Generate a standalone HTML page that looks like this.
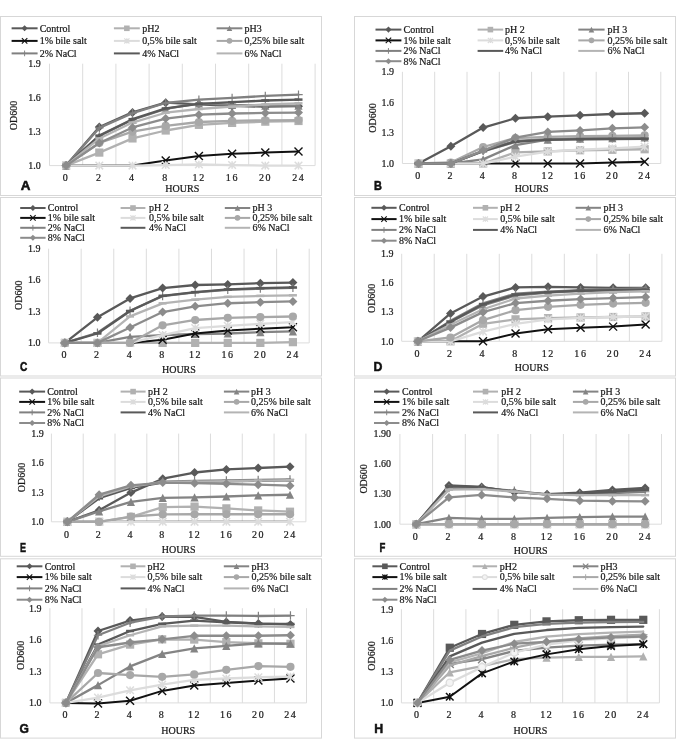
<!DOCTYPE html>
<html><head><meta charset="utf-8"><title>Growth curves</title>
<style>
html,body{margin:0;padding:0;background:#fff;}
body{width:677px;height:739px;overflow:hidden;}
svg text{font-family:"Liberation Serif",serif;}
svg{will-change:transform;}
svg text{stroke:#222;stroke-width:0.22px;}
svg text.pl{stroke:#111;stroke-width:0.55px;}
svg text.pl{font-family:"Liberation Sans",sans-serif;font-weight:bold;}
</style></head><body>
<svg width="677" height="739" viewBox="0 0 677 739" style="display:block">
<rect width="677" height="739" fill="#fff"/>
<rect x="0.5" y="16.5" width="321.0" height="179.0" fill="#fff" stroke="#d7d7d7" stroke-width="1"/>
<path d="M49.50 63.70L49.50 165.60M82.70 63.70L82.70 165.60M115.90 63.70L115.90 165.60M149.10 63.70L149.10 165.60M182.30 63.70L182.30 165.60M215.50 63.70L215.50 165.60M248.70 63.70L248.70 165.60M281.90 63.70L281.90 165.60M315.10 63.70L315.10 165.60M49.50 165.60L315.10 165.60" stroke="#dcdcdc" stroke-width="1" fill="none"/>
<text x="40.80" y="168.90" font-size="10" text-anchor="end" fill="#161616">1.0</text>
<text x="40.80" y="134.93" font-size="10" text-anchor="end" fill="#161616">1.3</text>
<text x="40.80" y="100.97" font-size="10" text-anchor="end" fill="#161616">1.6</text>
<text x="40.80" y="67.00" font-size="10" text-anchor="end" fill="#161616">1.9</text>
<text transform="translate(17.00 115.45) rotate(-90)" font-size="10" text-anchor="middle" fill="#161616">OD600</text>
<text x="65.20" y="180.80" font-size="10" text-anchor="middle" fill="#161616">0</text>
<text x="98.40" y="180.80" font-size="10" text-anchor="middle" fill="#161616">2</text>
<text x="131.60" y="180.80" font-size="10" text-anchor="middle" fill="#161616">4</text>
<text x="164.80" y="180.80" font-size="10" text-anchor="middle" fill="#161616">8</text>
<text x="199.20" y="180.80" font-size="10" text-anchor="middle" fill="#161616" letter-spacing="1.6">12</text>
<text x="232.40" y="180.80" font-size="10" text-anchor="middle" fill="#161616" letter-spacing="1.6">16</text>
<text x="265.60" y="180.80" font-size="10" text-anchor="middle" fill="#161616" letter-spacing="1.6">20</text>
<text x="298.80" y="180.80" font-size="10" text-anchor="middle" fill="#161616" letter-spacing="1.6">24</text>
<text x="182.30" y="191.70" font-size="10" text-anchor="middle" fill="#161616">HOURS</text>
<text transform="translate(20.8 190) scale(0.98 1)" class="pl" font-size="13.7" fill="#111">A</text>
<path d="M66.10 165.60L99.30 127.10L132.50 112.39L165.70 102.65L198.90 104.35L232.10 105.93L265.30 106.72L298.50 106.16" stroke="#595959" stroke-width="2.3" fill="none" stroke-linejoin="round" stroke-linecap="round"/>
<path d="M66.10 161.10L70.60 165.60L66.10 170.10L61.60 165.60Z" fill="#595959"/>
<path d="M99.30 122.60L103.80 127.10L99.30 131.60L94.80 127.10Z" fill="#595959"/>
<path d="M132.50 107.89L137.00 112.39L132.50 116.89L128.00 112.39Z" fill="#595959"/>
<path d="M165.70 98.15L170.20 102.65L165.70 107.15L161.20 102.65Z" fill="#595959"/>
<path d="M198.90 99.85L203.40 104.35L198.90 108.85L194.40 104.35Z" fill="#595959"/>
<path d="M232.10 101.43L236.60 105.93L232.10 110.43L227.60 105.93Z" fill="#595959"/>
<path d="M265.30 102.22L269.80 106.72L265.30 111.22L260.80 106.72Z" fill="#595959"/>
<path d="M298.50 101.66L303.00 106.16L298.50 110.66L294.00 106.16Z" fill="#595959"/>
<path d="M66.10 165.60L99.30 152.58L132.50 138.43L165.70 130.50L198.90 124.84L232.10 122.92L265.30 121.67L298.50 120.99" stroke="#b1b1b1" stroke-width="2.3" fill="none" stroke-linejoin="round" stroke-linecap="round"/>
<rect x="62.00" y="161.50" width="8.20" height="8.20" fill="#b1b1b1"/>
<rect x="95.20" y="148.48" width="8.20" height="8.20" fill="#b1b1b1"/>
<rect x="128.40" y="134.33" width="8.20" height="8.20" fill="#b1b1b1"/>
<rect x="161.60" y="126.40" width="8.20" height="8.20" fill="#b1b1b1"/>
<rect x="194.80" y="120.74" width="8.20" height="8.20" fill="#b1b1b1"/>
<rect x="228.00" y="118.82" width="8.20" height="8.20" fill="#b1b1b1"/>
<rect x="261.20" y="117.57" width="8.20" height="8.20" fill="#b1b1b1"/>
<rect x="294.40" y="116.89" width="8.20" height="8.20" fill="#b1b1b1"/>
<path d="M66.10 165.60L99.30 135.94L132.50 119.75L165.70 108.99L198.90 103.33L232.10 104.91L265.30 105.59L298.50 105.59" stroke="#848484" stroke-width="2.3" fill="none" stroke-linejoin="round" stroke-linecap="round"/>
<path d="M66.10 161.50L70.20 169.70L62.00 169.70Z" fill="#848484"/>
<path d="M99.30 131.84L103.40 140.04L95.20 140.04Z" fill="#848484"/>
<path d="M132.50 115.65L136.60 123.84L128.40 123.84Z" fill="#848484"/>
<path d="M165.70 104.89L169.80 113.09L161.60 113.09Z" fill="#848484"/>
<path d="M198.90 99.23L203.00 107.43L194.80 107.43Z" fill="#848484"/>
<path d="M232.10 100.81L236.20 109.01L228.00 109.01Z" fill="#848484"/>
<path d="M265.30 101.49L269.40 109.69L261.20 109.69Z" fill="#848484"/>
<path d="M298.50 101.49L302.60 109.69L294.40 109.69Z" fill="#848484"/>
<path d="M66.10 165.60L99.30 165.60L132.50 165.60L165.70 160.50L198.90 155.98L232.10 153.71L265.30 152.58L298.50 151.45" stroke="#111111" stroke-width="2.0" fill="none" stroke-linejoin="round" stroke-linecap="round"/>
<path d="M161.70 156.50L169.70 164.50M161.70 164.50L169.70 156.50" stroke="#111111" stroke-width="1.40" fill="none"/>
<path d="M194.90 151.98L202.90 159.98M194.90 159.98L202.90 151.98" stroke="#111111" stroke-width="1.40" fill="none"/>
<path d="M228.10 149.71L236.10 157.71M228.10 157.71L236.10 149.71" stroke="#111111" stroke-width="1.40" fill="none"/>
<path d="M261.30 148.58L269.30 156.58M261.30 156.58L269.30 148.58" stroke="#111111" stroke-width="1.40" fill="none"/>
<path d="M294.50 147.45L302.50 155.45M294.50 155.45L302.50 147.45" stroke="#111111" stroke-width="1.40" fill="none"/>
<path d="M66.10 165.60L99.30 165.60L132.50 165.60L165.70 165.03L198.90 164.47L232.10 165.03L265.30 165.60L298.50 165.60" stroke="#dcdcdc" stroke-width="2.3" fill="none" stroke-linejoin="round" stroke-linecap="round"/>
<path d="M62.30 161.80L69.90 169.40M62.30 169.40L69.90 161.80M66.10 161.80L66.10 169.40" stroke="#dcdcdc" stroke-width="1.50" fill="none"/>
<path d="M95.50 161.80L103.10 169.40M95.50 169.40L103.10 161.80M99.30 161.80L99.30 169.40" stroke="#dcdcdc" stroke-width="1.50" fill="none"/>
<path d="M128.70 161.80L136.30 169.40M128.70 169.40L136.30 161.80M132.50 161.80L132.50 169.40" stroke="#dcdcdc" stroke-width="1.50" fill="none"/>
<path d="M161.90 161.23L169.50 168.83M161.90 168.83L169.50 161.23M165.70 161.23L165.70 168.83" stroke="#dcdcdc" stroke-width="1.50" fill="none"/>
<path d="M195.10 160.67L202.70 168.27M195.10 168.27L202.70 160.67M198.90 160.67L198.90 168.27" stroke="#dcdcdc" stroke-width="1.50" fill="none"/>
<path d="M228.30 161.23L235.90 168.83M228.30 168.83L235.90 161.23M232.10 161.23L232.10 168.83" stroke="#dcdcdc" stroke-width="1.50" fill="none"/>
<path d="M261.50 161.80L269.10 169.40M261.50 169.40L269.10 161.80M265.30 161.80L265.30 169.40" stroke="#dcdcdc" stroke-width="1.50" fill="none"/>
<path d="M294.70 161.80L302.30 169.40M294.70 169.40L302.30 161.80M298.50 161.80L298.50 169.40" stroke="#dcdcdc" stroke-width="1.50" fill="none"/>
<path d="M66.10 165.60L99.30 142.96L132.50 131.63L165.70 125.97L198.90 122.01L232.10 120.88L265.30 120.31L298.50 120.08" stroke="#a8a8a8" stroke-width="2.3" fill="none" stroke-linejoin="round" stroke-linecap="round"/>
<circle cx="66.10" cy="165.60" r="4.10" fill="#a8a8a8"/>
<circle cx="99.30" cy="142.96" r="4.10" fill="#a8a8a8"/>
<circle cx="132.50" cy="131.63" r="4.10" fill="#a8a8a8"/>
<circle cx="165.70" cy="125.97" r="4.10" fill="#a8a8a8"/>
<circle cx="198.90" cy="122.01" r="4.10" fill="#a8a8a8"/>
<circle cx="232.10" cy="120.88" r="4.10" fill="#a8a8a8"/>
<circle cx="265.30" cy="120.31" r="4.10" fill="#a8a8a8"/>
<circle cx="298.50" cy="120.08" r="4.10" fill="#a8a8a8"/>
<path d="M66.10 165.60L99.30 127.90L132.50 113.18L165.70 102.99L198.90 99.59L232.10 97.89L265.30 95.97L298.50 94.61" stroke="#808080" stroke-width="2.3" fill="none" stroke-linejoin="round" stroke-linecap="round"/>
<path d="M61.90 165.60L70.30 165.60M66.10 161.40L66.10 169.80" stroke="#808080" stroke-width="1.20" fill="none"/>
<path d="M95.10 127.90L103.50 127.90M99.30 123.70L99.30 132.10" stroke="#808080" stroke-width="1.20" fill="none"/>
<path d="M128.30 113.18L136.70 113.18M132.50 108.98L132.50 117.38" stroke="#808080" stroke-width="1.20" fill="none"/>
<path d="M161.50 102.99L169.90 102.99M165.70 98.79L165.70 107.19" stroke="#808080" stroke-width="1.20" fill="none"/>
<path d="M194.70 99.59L203.10 99.59M198.90 95.39L198.90 103.79" stroke="#808080" stroke-width="1.20" fill="none"/>
<path d="M227.90 97.89L236.30 97.89M232.10 93.69L232.10 102.09" stroke="#808080" stroke-width="1.20" fill="none"/>
<path d="M261.10 95.97L269.50 95.97M265.30 91.77L265.30 100.17" stroke="#808080" stroke-width="1.20" fill="none"/>
<path d="M294.30 94.61L302.70 94.61M298.50 90.41L298.50 98.81" stroke="#808080" stroke-width="1.20" fill="none"/>
<path d="M66.10 165.60L99.30 135.60L132.50 119.18L165.70 108.42L198.90 103.89L232.10 102.20L265.30 100.50L298.50 99.59" stroke="#595959" stroke-width="2.3" fill="none" stroke-linejoin="round" stroke-linecap="round"/>
<rect x="62.10" y="164.35" width="8.00" height="2.5" fill="#595959"/>
<rect x="95.30" y="134.35" width="8.00" height="2.5" fill="#595959"/>
<rect x="128.50" y="117.93" width="8.00" height="2.5" fill="#595959"/>
<rect x="161.70" y="107.17" width="8.00" height="2.5" fill="#595959"/>
<rect x="194.90" y="102.64" width="8.00" height="2.5" fill="#595959"/>
<rect x="228.10" y="100.95" width="8.00" height="2.5" fill="#595959"/>
<rect x="261.30" y="99.25" width="8.00" height="2.5" fill="#595959"/>
<rect x="294.50" y="98.34" width="8.00" height="2.5" fill="#595959"/>
<path d="M66.10 165.60L99.30 138.43L132.50 122.58L165.70 112.73L198.90 108.99L232.10 106.72L265.30 104.46L298.50 103.33" stroke="#b4b4b4" stroke-width="2.3" fill="none" stroke-linejoin="round" stroke-linecap="round"/>
<rect x="62.10" y="164.35" width="8.00" height="2.5" fill="#b4b4b4"/>
<rect x="95.30" y="137.18" width="8.00" height="2.5" fill="#b4b4b4"/>
<rect x="128.50" y="121.33" width="8.00" height="2.5" fill="#b4b4b4"/>
<rect x="161.70" y="111.48" width="8.00" height="2.5" fill="#b4b4b4"/>
<rect x="194.90" y="107.74" width="8.00" height="2.5" fill="#b4b4b4"/>
<rect x="228.10" y="105.47" width="8.00" height="2.5" fill="#b4b4b4"/>
<rect x="261.30" y="103.21" width="8.00" height="2.5" fill="#b4b4b4"/>
<rect x="294.50" y="102.08" width="8.00" height="2.5" fill="#b4b4b4"/>
<path d="M66.10 165.60L99.30 142.96L132.50 127.44L165.70 118.61L198.90 114.65L232.10 113.52L265.30 112.95L298.50 112.61" stroke="#8c8c8c" stroke-width="2.3" fill="none" stroke-linejoin="round" stroke-linecap="round"/>
<path d="M66.10 161.10L70.60 165.60L66.10 170.10L61.60 165.60Z" fill="#8c8c8c"/>
<path d="M99.30 138.46L103.80 142.96L99.30 147.46L94.80 142.96Z" fill="#8c8c8c"/>
<path d="M132.50 122.94L137.00 127.44L132.50 131.94L128.00 127.44Z" fill="#8c8c8c"/>
<path d="M165.70 114.11L170.20 118.61L165.70 123.11L161.20 118.61Z" fill="#8c8c8c"/>
<path d="M198.90 110.15L203.40 114.65L198.90 119.15L194.40 114.65Z" fill="#8c8c8c"/>
<path d="M232.10 109.02L236.60 113.52L232.10 118.02L227.60 113.52Z" fill="#8c8c8c"/>
<path d="M265.30 108.45L269.80 112.95L265.30 117.45L260.80 112.95Z" fill="#8c8c8c"/>
<path d="M298.50 108.11L303.00 112.61L298.50 117.11L294.00 112.61Z" fill="#8c8c8c"/>
<path d="M11.60 28.30L37.60 28.30" stroke="#595959" stroke-width="2"/>
<path d="M24.60 25.24L27.66 28.30L24.60 31.36L21.54 28.30Z" fill="#595959"/>
<text x="39.70" y="31.60" font-size="10" fill="#161616">Control</text>
<path d="M113.90 28.30L139.80 28.30" stroke="#b1b1b1" stroke-width="2"/>
<rect x="124.06" y="25.51" width="5.58" height="5.58" fill="#b1b1b1"/>
<text x="142.20" y="31.60" font-size="10" fill="#161616">pH2</text>
<path d="M216.60 28.30L242.40 28.30" stroke="#848484" stroke-width="2"/>
<path d="M229.50 25.51L232.29 31.09L226.71 31.09Z" fill="#848484"/>
<text x="244.50" y="31.60" font-size="10" fill="#161616">pH3</text>
<path d="M11.60 40.90L37.60 40.90" stroke="#111111" stroke-width="2"/>
<path d="M21.88 38.18L27.32 43.62M21.88 43.62L27.32 38.18" stroke="#111111" stroke-width="1.12" fill="none"/>
<text x="39.70" y="44.20" font-size="10" fill="#161616">1% bile salt</text>
<path d="M113.90 40.90L139.80 40.90" stroke="#dcdcdc" stroke-width="2"/>
<path d="M124.27 38.32L129.43 43.48M124.27 43.48L129.43 38.32M126.85 38.32L126.85 43.48" stroke="#dcdcdc" stroke-width="1.20" fill="none"/>
<text x="142.20" y="44.20" font-size="10" fill="#161616">0,5% bile salt</text>
<path d="M216.60 40.90L242.40 40.90" stroke="#a8a8a8" stroke-width="2"/>
<circle cx="229.50" cy="40.90" r="2.79" fill="#a8a8a8"/>
<text x="244.50" y="44.20" font-size="10" fill="#161616">0,25% bile salt</text>
<path d="M11.60 53.40L37.60 53.40" stroke="#808080" stroke-width="2"/>
<path d="M21.74 53.40L27.46 53.40M24.60 50.54L24.60 56.26" stroke="#808080" stroke-width="0.96" fill="none"/>
<text x="39.70" y="56.70" font-size="10" fill="#161616">2% NaCl</text>
<path d="M113.90 53.40L139.80 53.40" stroke="#595959" stroke-width="2"/>
<text x="142.20" y="56.70" font-size="10" fill="#161616">4% NaCl</text>
<path d="M216.60 53.40L242.40 53.40" stroke="#b4b4b4" stroke-width="2"/>
<text x="244.50" y="56.70" font-size="10" fill="#161616">6% NaCl</text>
<rect x="354.5" y="16.5" width="321.0" height="179.0" fill="#fff" stroke="#d7d7d7" stroke-width="1"/>
<path d="M402.40 71.80L402.40 163.50M434.70 71.80L434.70 163.50M467.00 71.80L467.00 163.50M499.30 71.80L499.30 163.50M531.60 71.80L531.60 163.50M563.90 71.80L563.90 163.50M596.20 71.80L596.20 163.50M628.50 71.80L628.50 163.50M660.80 71.80L660.80 163.50M402.40 163.50L660.80 163.50" stroke="#dcdcdc" stroke-width="1" fill="none"/>
<text x="394.00" y="166.80" font-size="10" text-anchor="end" fill="#161616">1.0</text>
<text x="394.00" y="136.23" font-size="10" text-anchor="end" fill="#161616">1.3</text>
<text x="394.00" y="105.67" font-size="10" text-anchor="end" fill="#161616">1.6</text>
<text x="394.00" y="75.10" font-size="10" text-anchor="end" fill="#161616">1.9</text>
<text transform="translate(375.50 117.95) rotate(-90)" font-size="10" text-anchor="middle" fill="#161616">OD600</text>
<text x="417.65" y="179.30" font-size="10" text-anchor="middle" fill="#161616">0</text>
<text x="449.95" y="179.30" font-size="10" text-anchor="middle" fill="#161616">2</text>
<text x="482.25" y="179.30" font-size="10" text-anchor="middle" fill="#161616">4</text>
<text x="514.55" y="179.30" font-size="10" text-anchor="middle" fill="#161616">8</text>
<text x="548.05" y="179.30" font-size="10" text-anchor="middle" fill="#161616" letter-spacing="1.6">12</text>
<text x="580.35" y="179.30" font-size="10" text-anchor="middle" fill="#161616" letter-spacing="1.6">16</text>
<text x="612.65" y="179.30" font-size="10" text-anchor="middle" fill="#161616" letter-spacing="1.6">20</text>
<text x="644.95" y="179.30" font-size="10" text-anchor="middle" fill="#161616" letter-spacing="1.6">24</text>
<text x="531.60" y="191.90" font-size="10" text-anchor="middle" fill="#161616">HOURS</text>
<text transform="translate(374.0 189.5) scale(0.8 1)" class="pl" font-size="13.7" fill="#111">B</text>
<path d="M418.55 163.50L450.85 146.18L483.15 127.53L515.45 118.26L547.75 116.63L580.05 115.31L612.35 113.98L644.65 113.27" stroke="#595959" stroke-width="2.3" fill="none" stroke-linejoin="round" stroke-linecap="round"/>
<path d="M418.55 159.00L423.05 163.50L418.55 168.00L414.05 163.50Z" fill="#595959"/>
<path d="M450.85 141.68L455.35 146.18L450.85 150.68L446.35 146.18Z" fill="#595959"/>
<path d="M483.15 123.03L487.65 127.53L483.15 132.03L478.65 127.53Z" fill="#595959"/>
<path d="M515.45 113.76L519.95 118.26L515.45 122.76L510.95 118.26Z" fill="#595959"/>
<path d="M547.75 112.13L552.25 116.63L547.75 121.13L543.25 116.63Z" fill="#595959"/>
<path d="M580.05 110.81L584.55 115.31L580.05 119.81L575.55 115.31Z" fill="#595959"/>
<path d="M612.35 109.48L616.85 113.98L612.35 118.48L607.85 113.98Z" fill="#595959"/>
<path d="M644.65 108.77L649.15 113.27L644.65 117.77L640.15 113.27Z" fill="#595959"/>
<path d="M418.55 163.50L450.85 163.50L483.15 163.50L515.45 152.29L547.75 151.38L580.05 150.25L612.35 149.75L644.65 149.24" stroke="#b1b1b1" stroke-width="2.3" fill="none" stroke-linejoin="round" stroke-linecap="round"/>
<rect x="414.45" y="159.40" width="8.20" height="8.20" fill="#b1b1b1"/>
<rect x="446.75" y="159.40" width="8.20" height="8.20" fill="#b1b1b1"/>
<rect x="479.05" y="159.40" width="8.20" height="8.20" fill="#b1b1b1"/>
<rect x="511.35" y="148.19" width="8.20" height="8.20" fill="#b1b1b1"/>
<rect x="543.65" y="147.28" width="8.20" height="8.20" fill="#b1b1b1"/>
<rect x="575.95" y="146.15" width="8.20" height="8.20" fill="#b1b1b1"/>
<rect x="608.25" y="145.65" width="8.20" height="8.20" fill="#b1b1b1"/>
<rect x="640.55" y="145.14" width="8.20" height="8.20" fill="#b1b1b1"/>
<path d="M418.55 163.50L450.85 163.50L483.15 159.42L515.45 145.16L547.75 139.56L580.05 138.54L612.35 138.03L644.65 137.52" stroke="#848484" stroke-width="2.3" fill="none" stroke-linejoin="round" stroke-linecap="round"/>
<path d="M418.55 159.40L422.65 167.60L414.45 167.60Z" fill="#848484"/>
<path d="M450.85 159.40L454.95 167.60L446.75 167.60Z" fill="#848484"/>
<path d="M483.15 155.32L487.25 163.52L479.05 163.52Z" fill="#848484"/>
<path d="M515.45 141.06L519.55 149.26L511.35 149.26Z" fill="#848484"/>
<path d="M547.75 135.46L551.85 143.66L543.65 143.66Z" fill="#848484"/>
<path d="M580.05 134.44L584.15 142.64L575.95 142.64Z" fill="#848484"/>
<path d="M612.35 133.93L616.45 142.13L608.25 142.13Z" fill="#848484"/>
<path d="M644.65 133.42L648.75 141.62L640.55 141.62Z" fill="#848484"/>
<path d="M418.55 163.50L450.85 163.50L483.15 163.50L515.45 163.50L547.75 163.50L580.05 163.50L612.35 162.48L644.65 161.77" stroke="#111111" stroke-width="2.0" fill="none" stroke-linejoin="round" stroke-linecap="round"/>
<path d="M511.45 159.50L519.45 167.50M511.45 167.50L519.45 159.50" stroke="#111111" stroke-width="1.40" fill="none"/>
<path d="M543.75 159.50L551.75 167.50M543.75 167.50L551.75 159.50" stroke="#111111" stroke-width="1.40" fill="none"/>
<path d="M576.05 159.50L584.05 167.50M576.05 167.50L584.05 159.50" stroke="#111111" stroke-width="1.40" fill="none"/>
<path d="M608.35 158.48L616.35 166.48M608.35 166.48L616.35 158.48" stroke="#111111" stroke-width="1.40" fill="none"/>
<path d="M640.65 157.77L648.65 165.77M640.65 165.77L648.65 157.77" stroke="#111111" stroke-width="1.40" fill="none"/>
<path d="M418.55 163.50L450.85 163.50L483.15 163.50L515.45 156.67L547.75 151.68L580.05 149.75L612.35 148.42L644.65 146.69" stroke="#dcdcdc" stroke-width="2.3" fill="none" stroke-linejoin="round" stroke-linecap="round"/>
<path d="M414.75 159.70L422.35 167.30M414.75 167.30L422.35 159.70M418.55 159.70L418.55 167.30" stroke="#dcdcdc" stroke-width="1.50" fill="none"/>
<path d="M447.05 159.70L454.65 167.30M447.05 167.30L454.65 159.70M450.85 159.70L450.85 167.30" stroke="#dcdcdc" stroke-width="1.50" fill="none"/>
<path d="M479.35 159.70L486.95 167.30M479.35 167.30L486.95 159.70M483.15 159.70L483.15 167.30" stroke="#dcdcdc" stroke-width="1.50" fill="none"/>
<path d="M511.65 152.87L519.25 160.47M511.65 160.47L519.25 152.87M515.45 152.87L515.45 160.47" stroke="#dcdcdc" stroke-width="1.50" fill="none"/>
<path d="M543.95 147.88L551.55 155.48M543.95 155.48L551.55 147.88M547.75 147.88L547.75 155.48" stroke="#dcdcdc" stroke-width="1.50" fill="none"/>
<path d="M576.25 145.94L583.85 153.55M576.25 153.55L583.85 145.94M580.05 145.94L580.05 153.55" stroke="#dcdcdc" stroke-width="1.50" fill="none"/>
<path d="M608.55 144.62L616.15 152.22M608.55 152.22L616.15 144.62M612.35 144.62L612.35 152.22" stroke="#dcdcdc" stroke-width="1.50" fill="none"/>
<path d="M640.85 142.89L648.45 150.49M640.85 150.49L648.45 142.89M644.65 142.89L644.65 150.49" stroke="#dcdcdc" stroke-width="1.50" fill="none"/>
<path d="M418.55 163.50L450.85 162.48L483.15 146.99L515.45 138.03L547.75 136.81L580.05 136.19L612.35 135.79L644.65 135.28" stroke="#a8a8a8" stroke-width="2.3" fill="none" stroke-linejoin="round" stroke-linecap="round"/>
<circle cx="418.55" cy="163.50" r="4.10" fill="#a8a8a8"/>
<circle cx="450.85" cy="162.48" r="4.10" fill="#a8a8a8"/>
<circle cx="483.15" cy="146.99" r="4.10" fill="#a8a8a8"/>
<circle cx="515.45" cy="138.03" r="4.10" fill="#a8a8a8"/>
<circle cx="547.75" cy="136.81" r="4.10" fill="#a8a8a8"/>
<circle cx="580.05" cy="136.19" r="4.10" fill="#a8a8a8"/>
<circle cx="612.35" cy="135.79" r="4.10" fill="#a8a8a8"/>
<circle cx="644.65" cy="135.28" r="4.10" fill="#a8a8a8"/>
<path d="M418.55 163.50L450.85 163.50L483.15 151.27L515.45 142.10L547.75 139.56L580.05 139.05L612.35 138.74L644.65 138.54" stroke="#b4b4b4" stroke-width="2.3" fill="none" stroke-linejoin="round" stroke-linecap="round"/>
<rect x="414.55" y="162.25" width="8.00" height="2.5" fill="#b4b4b4"/>
<rect x="446.85" y="162.25" width="8.00" height="2.5" fill="#b4b4b4"/>
<rect x="479.15" y="150.02" width="8.00" height="2.5" fill="#b4b4b4"/>
<rect x="511.45" y="140.85" width="8.00" height="2.5" fill="#b4b4b4"/>
<rect x="543.75" y="138.31" width="8.00" height="2.5" fill="#b4b4b4"/>
<rect x="576.05" y="137.80" width="8.00" height="2.5" fill="#b4b4b4"/>
<rect x="608.35" y="137.49" width="8.00" height="2.5" fill="#b4b4b4"/>
<rect x="640.65" y="137.29" width="8.00" height="2.5" fill="#b4b4b4"/>
<path d="M418.55 163.50L450.85 163.50L483.15 150.76L515.45 140.88L547.75 139.05L580.05 138.54L612.35 138.23L644.65 138.03" stroke="#808080" stroke-width="2.3" fill="none" stroke-linejoin="round" stroke-linecap="round"/>
<path d="M414.35 163.50L422.75 163.50M418.55 159.30L418.55 167.70" stroke="#808080" stroke-width="1.20" fill="none"/>
<path d="M446.65 163.50L455.05 163.50M450.85 159.30L450.85 167.70" stroke="#808080" stroke-width="1.20" fill="none"/>
<path d="M478.95 150.76L487.35 150.76M483.15 146.56L483.15 154.96" stroke="#808080" stroke-width="1.20" fill="none"/>
<path d="M511.25 140.88L519.65 140.88M515.45 136.68L515.45 145.08" stroke="#808080" stroke-width="1.20" fill="none"/>
<path d="M543.55 139.05L551.95 139.05M547.75 134.85L547.75 143.25" stroke="#808080" stroke-width="1.20" fill="none"/>
<path d="M575.85 138.54L584.25 138.54M580.05 134.34L580.05 142.74" stroke="#808080" stroke-width="1.20" fill="none"/>
<path d="M608.15 138.23L616.55 138.23M612.35 134.03L612.35 142.43" stroke="#808080" stroke-width="1.20" fill="none"/>
<path d="M640.45 138.03L648.85 138.03M644.65 133.83L644.65 142.23" stroke="#808080" stroke-width="1.20" fill="none"/>
<path d="M418.55 163.50L450.85 163.50L483.15 151.07L515.45 141.59L547.75 139.86L580.05 139.25L612.35 139.05L644.65 138.84" stroke="#595959" stroke-width="2.3" fill="none" stroke-linejoin="round" stroke-linecap="round"/>
<rect x="414.55" y="162.25" width="8.00" height="2.5" fill="#595959"/>
<rect x="446.85" y="162.25" width="8.00" height="2.5" fill="#595959"/>
<rect x="479.15" y="149.82" width="8.00" height="2.5" fill="#595959"/>
<rect x="511.45" y="140.34" width="8.00" height="2.5" fill="#595959"/>
<rect x="543.75" y="138.61" width="8.00" height="2.5" fill="#595959"/>
<rect x="576.05" y="138.00" width="8.00" height="2.5" fill="#595959"/>
<rect x="608.35" y="137.80" width="8.00" height="2.5" fill="#595959"/>
<rect x="640.65" y="137.59" width="8.00" height="2.5" fill="#595959"/>
<path d="M418.55 163.50L450.85 163.50L483.15 150.56L515.45 137.62L547.75 131.91L580.05 130.39L612.35 128.35L644.65 127.33" stroke="#8c8c8c" stroke-width="2.3" fill="none" stroke-linejoin="round" stroke-linecap="round"/>
<path d="M418.55 159.00L423.05 163.50L418.55 168.00L414.05 163.50Z" fill="#8c8c8c"/>
<path d="M450.85 159.00L455.35 163.50L450.85 168.00L446.35 163.50Z" fill="#8c8c8c"/>
<path d="M483.15 146.06L487.65 150.56L483.15 155.06L478.65 150.56Z" fill="#8c8c8c"/>
<path d="M515.45 133.12L519.95 137.62L515.45 142.12L510.95 137.62Z" fill="#8c8c8c"/>
<path d="M547.75 127.41L552.25 131.91L547.75 136.41L543.25 131.91Z" fill="#8c8c8c"/>
<path d="M580.05 125.89L584.55 130.39L580.05 134.89L575.55 130.39Z" fill="#8c8c8c"/>
<path d="M612.35 123.85L616.85 128.35L612.35 132.85L607.85 128.35Z" fill="#8c8c8c"/>
<path d="M644.65 122.83L649.15 127.33L644.65 131.83L640.15 127.33Z" fill="#8c8c8c"/>
<path d="M375.50 29.60L401.40 29.60" stroke="#595959" stroke-width="2"/>
<path d="M388.45 26.54L391.51 29.60L388.45 32.66L385.39 29.60Z" fill="#595959"/>
<text x="403.50" y="32.90" font-size="10" fill="#161616">Control</text>
<path d="M477.60 29.60L503.20 29.60" stroke="#b1b1b1" stroke-width="2"/>
<rect x="487.61" y="26.81" width="5.58" height="5.58" fill="#b1b1b1"/>
<text x="505.00" y="32.90" font-size="10" fill="#161616">pH 2</text>
<path d="M578.30 29.60L604.60 29.60" stroke="#848484" stroke-width="2"/>
<path d="M591.45 26.81L594.24 32.39L588.66 32.39Z" fill="#848484"/>
<text x="607.50" y="32.90" font-size="10" fill="#161616">pH 3</text>
<path d="M375.50 40.40L401.40 40.40" stroke="#111111" stroke-width="2"/>
<path d="M385.73 37.68L391.17 43.12M385.73 43.12L391.17 37.68" stroke="#111111" stroke-width="1.12" fill="none"/>
<text x="403.50" y="43.70" font-size="10" fill="#161616">1% bile salt</text>
<path d="M477.60 40.40L503.20 40.40" stroke="#dcdcdc" stroke-width="2"/>
<path d="M487.82 37.82L492.98 42.98M487.82 42.98L492.98 37.82M490.40 37.82L490.40 42.98" stroke="#dcdcdc" stroke-width="1.20" fill="none"/>
<text x="505.00" y="43.70" font-size="10" fill="#161616">0,5% bile salt</text>
<path d="M578.30 40.40L604.60 40.40" stroke="#a8a8a8" stroke-width="2"/>
<circle cx="591.45" cy="40.40" r="2.79" fill="#a8a8a8"/>
<text x="607.50" y="43.70" font-size="10" fill="#161616">0,25% bile salt</text>
<path d="M375.50 50.90L401.40 50.90" stroke="#808080" stroke-width="2"/>
<path d="M385.59 50.90L391.31 50.90M388.45 48.04L388.45 53.76" stroke="#808080" stroke-width="0.96" fill="none"/>
<text x="403.50" y="54.20" font-size="10" fill="#161616">2% NaCl</text>
<path d="M477.60 50.90L503.20 50.90" stroke="#595959" stroke-width="2"/>
<text x="505.00" y="54.20" font-size="10" fill="#161616">4% NaCl</text>
<path d="M578.30 50.90L604.60 50.90" stroke="#b4b4b4" stroke-width="2"/>
<text x="607.50" y="54.20" font-size="10" fill="#161616">6% NaCl</text>
<path d="M375.50 61.20L401.40 61.20" stroke="#8c8c8c" stroke-width="2"/>
<path d="M388.45 58.14L391.51 61.20L388.45 64.26L385.39 61.20Z" fill="#8c8c8c"/>
<text x="403.50" y="64.50" font-size="10" fill="#161616">8% NaCl</text>
<rect x="0.5" y="197.5" width="321.0" height="178.5" fill="#fff" stroke="#d7d7d7" stroke-width="1"/>
<path d="M48.60 248.70L48.60 342.90M81.17 248.70L81.17 342.90M113.75 248.70L113.75 342.90M146.32 248.70L146.32 342.90M178.90 248.70L178.90 342.90M211.47 248.70L211.47 342.90M244.05 248.70L244.05 342.90M276.62 248.70L276.62 342.90M309.20 248.70L309.20 342.90M48.60 342.90L309.20 342.90" stroke="#dcdcdc" stroke-width="1" fill="none"/>
<text x="40.50" y="346.20" font-size="10" text-anchor="end" fill="#161616">1.0</text>
<text x="40.50" y="314.80" font-size="10" text-anchor="end" fill="#161616">1.3</text>
<text x="40.50" y="283.40" font-size="10" text-anchor="end" fill="#161616">1.6</text>
<text x="40.50" y="252.00" font-size="10" text-anchor="end" fill="#161616">1.9</text>
<text transform="translate(22.00 295.30) rotate(-90)" font-size="10" text-anchor="middle" fill="#161616">OD600</text>
<text x="63.99" y="358.30" font-size="10" text-anchor="middle" fill="#161616">0</text>
<text x="96.56" y="358.30" font-size="10" text-anchor="middle" fill="#161616">2</text>
<text x="129.14" y="358.30" font-size="10" text-anchor="middle" fill="#161616">4</text>
<text x="161.71" y="358.30" font-size="10" text-anchor="middle" fill="#161616">8</text>
<text x="195.49" y="358.30" font-size="10" text-anchor="middle" fill="#161616" letter-spacing="1.6">12</text>
<text x="228.06" y="358.30" font-size="10" text-anchor="middle" fill="#161616" letter-spacing="1.6">16</text>
<text x="260.64" y="358.30" font-size="10" text-anchor="middle" fill="#161616" letter-spacing="1.6">20</text>
<text x="293.21" y="358.30" font-size="10" text-anchor="middle" fill="#161616" letter-spacing="1.6">24</text>
<text x="178.90" y="373.20" font-size="10" text-anchor="middle" fill="#161616">HOURS</text>
<text transform="translate(19.9 371) scale(0.74 1)" class="pl" font-size="13.7" fill="#111">C</text>
<path d="M64.89 342.90L97.46 317.36L130.04 298.42L162.61 288.05L195.19 285.02L227.76 284.39L260.34 283.14L292.91 282.61" stroke="#595959" stroke-width="2.3" fill="none" stroke-linejoin="round" stroke-linecap="round"/>
<path d="M64.89 338.40L69.39 342.90L64.89 347.40L60.39 342.90Z" fill="#595959"/>
<path d="M97.46 312.86L101.96 317.36L97.46 321.86L92.96 317.36Z" fill="#595959"/>
<path d="M130.04 293.92L134.54 298.42L130.04 302.92L125.54 298.42Z" fill="#595959"/>
<path d="M162.61 283.55L167.11 288.05L162.61 292.55L158.11 288.05Z" fill="#595959"/>
<path d="M195.19 280.52L199.69 285.02L195.19 289.52L190.69 285.02Z" fill="#595959"/>
<path d="M227.76 279.89L232.26 284.39L227.76 288.89L223.26 284.39Z" fill="#595959"/>
<path d="M260.34 278.64L264.84 283.14L260.34 287.64L255.84 283.14Z" fill="#595959"/>
<path d="M292.91 278.11L297.41 282.61L292.91 287.11L288.41 282.61Z" fill="#595959"/>
<path d="M64.89 342.90L97.46 342.90L130.04 342.90L162.61 342.90L195.19 342.90L227.76 342.90L260.34 342.90L292.91 342.17" stroke="#b1b1b1" stroke-width="2.3" fill="none" stroke-linejoin="round" stroke-linecap="round"/>
<rect x="60.79" y="338.80" width="8.20" height="8.20" fill="#b1b1b1"/>
<rect x="93.36" y="338.80" width="8.20" height="8.20" fill="#b1b1b1"/>
<rect x="125.94" y="338.80" width="8.20" height="8.20" fill="#b1b1b1"/>
<rect x="158.51" y="338.80" width="8.20" height="8.20" fill="#b1b1b1"/>
<rect x="191.09" y="338.80" width="8.20" height="8.20" fill="#b1b1b1"/>
<rect x="223.66" y="338.80" width="8.20" height="8.20" fill="#b1b1b1"/>
<rect x="256.24" y="338.80" width="8.20" height="8.20" fill="#b1b1b1"/>
<rect x="288.81" y="338.07" width="8.20" height="8.20" fill="#b1b1b1"/>
<path d="M64.89 342.90L97.46 342.90L130.04 336.83L162.61 335.05L195.19 334.00L227.76 333.48L260.34 332.12L292.91 331.39" stroke="#848484" stroke-width="2.3" fill="none" stroke-linejoin="round" stroke-linecap="round"/>
<path d="M64.89 338.80L68.99 347.00L60.79 347.00Z" fill="#848484"/>
<path d="M97.46 338.80L101.56 347.00L93.36 347.00Z" fill="#848484"/>
<path d="M130.04 332.73L134.14 340.93L125.94 340.93Z" fill="#848484"/>
<path d="M162.61 330.95L166.71 339.15L158.51 339.15Z" fill="#848484"/>
<path d="M195.19 329.90L199.29 338.10L191.09 338.10Z" fill="#848484"/>
<path d="M227.76 329.38L231.86 337.58L223.66 337.58Z" fill="#848484"/>
<path d="M260.34 328.02L264.44 336.22L256.24 336.22Z" fill="#848484"/>
<path d="M292.91 327.29L297.01 335.49L288.81 335.49Z" fill="#848484"/>
<path d="M64.89 342.90L97.46 342.90L130.04 342.90L162.61 339.76L195.19 333.48L227.76 330.55L260.34 328.67L292.91 327.20" stroke="#111111" stroke-width="2.0" fill="none" stroke-linejoin="round" stroke-linecap="round"/>
<path d="M158.61 335.76L166.61 343.76M158.61 343.76L166.61 335.76" stroke="#111111" stroke-width="1.40" fill="none"/>
<path d="M191.19 329.48L199.19 337.48M191.19 337.48L199.19 329.48" stroke="#111111" stroke-width="1.40" fill="none"/>
<path d="M223.76 326.55L231.76 334.55M223.76 334.55L231.76 326.55" stroke="#111111" stroke-width="1.40" fill="none"/>
<path d="M256.34 324.67L264.34 332.67M256.34 332.67L264.34 324.67" stroke="#111111" stroke-width="1.40" fill="none"/>
<path d="M288.91 323.20L296.91 331.20M288.91 331.20L296.91 323.20" stroke="#111111" stroke-width="1.40" fill="none"/>
<path d="M64.89 342.90L97.46 342.90L130.04 342.90L162.61 335.05L195.19 328.04L227.76 325.84L260.34 323.85L292.91 322.07" stroke="#dcdcdc" stroke-width="2.3" fill="none" stroke-linejoin="round" stroke-linecap="round"/>
<path d="M61.09 339.10L68.69 346.70M61.09 346.70L68.69 339.10M64.89 339.10L64.89 346.70" stroke="#dcdcdc" stroke-width="1.50" fill="none"/>
<path d="M93.66 339.10L101.26 346.70M93.66 346.70L101.26 339.10M97.46 339.10L97.46 346.70" stroke="#dcdcdc" stroke-width="1.50" fill="none"/>
<path d="M126.24 339.10L133.84 346.70M126.24 346.70L133.84 339.10M130.04 339.10L130.04 346.70" stroke="#dcdcdc" stroke-width="1.50" fill="none"/>
<path d="M158.81 331.25L166.41 338.85M158.81 338.85L166.41 331.25M162.61 331.25L162.61 338.85" stroke="#dcdcdc" stroke-width="1.50" fill="none"/>
<path d="M191.39 324.24L198.99 331.84M191.39 331.84L198.99 324.24M195.19 324.24L195.19 331.84" stroke="#dcdcdc" stroke-width="1.50" fill="none"/>
<path d="M223.96 322.04L231.56 329.64M223.96 329.64L231.56 322.04M227.76 322.04L227.76 329.64" stroke="#dcdcdc" stroke-width="1.50" fill="none"/>
<path d="M256.54 320.05L264.14 327.65M256.54 327.65L264.14 320.05M260.34 320.05L260.34 327.65" stroke="#dcdcdc" stroke-width="1.50" fill="none"/>
<path d="M289.11 318.27L296.71 325.87M289.11 325.87L296.71 318.27M292.91 318.27L292.91 325.87" stroke="#dcdcdc" stroke-width="1.50" fill="none"/>
<path d="M64.89 342.90L97.46 342.90L130.04 342.90L162.61 325.32L195.19 319.98L227.76 317.78L260.34 317.05L292.91 316.52" stroke="#a8a8a8" stroke-width="2.3" fill="none" stroke-linejoin="round" stroke-linecap="round"/>
<circle cx="64.89" cy="342.90" r="4.10" fill="#a8a8a8"/>
<circle cx="97.46" cy="342.90" r="4.10" fill="#a8a8a8"/>
<circle cx="130.04" cy="342.90" r="4.10" fill="#a8a8a8"/>
<circle cx="162.61" cy="325.32" r="4.10" fill="#a8a8a8"/>
<circle cx="195.19" cy="319.98" r="4.10" fill="#a8a8a8"/>
<circle cx="227.76" cy="317.78" r="4.10" fill="#a8a8a8"/>
<circle cx="260.34" cy="317.05" r="4.10" fill="#a8a8a8"/>
<circle cx="292.91" cy="316.52" r="4.10" fill="#a8a8a8"/>
<path d="M64.89 342.90L97.46 332.75L130.04 310.77L162.61 296.11L195.19 292.45L227.76 289.83L260.34 288.58L292.91 287.85" stroke="#808080" stroke-width="2.3" fill="none" stroke-linejoin="round" stroke-linecap="round"/>
<path d="M60.69 342.90L69.09 342.90M64.89 338.70L64.89 347.10" stroke="#808080" stroke-width="1.20" fill="none"/>
<path d="M93.26 332.75L101.66 332.75M97.46 328.55L97.46 336.95" stroke="#808080" stroke-width="1.20" fill="none"/>
<path d="M125.84 310.77L134.24 310.77M130.04 306.57L130.04 314.97" stroke="#808080" stroke-width="1.20" fill="none"/>
<path d="M158.41 296.11L166.81 296.11M162.61 291.91L162.61 300.31" stroke="#808080" stroke-width="1.20" fill="none"/>
<path d="M190.99 292.45L199.39 292.45M195.19 288.25L195.19 296.65" stroke="#808080" stroke-width="1.20" fill="none"/>
<path d="M223.56 289.83L231.96 289.83M227.76 285.63L227.76 294.03" stroke="#808080" stroke-width="1.20" fill="none"/>
<path d="M256.14 288.58L264.54 288.58M260.34 284.38L260.34 292.78" stroke="#808080" stroke-width="1.20" fill="none"/>
<path d="M288.71 287.85L297.11 287.85M292.91 283.65L292.91 292.05" stroke="#808080" stroke-width="1.20" fill="none"/>
<path d="M64.89 342.90L97.46 333.48L130.04 310.98L162.61 295.80L195.19 292.14L227.76 289.42L260.34 288.16L292.91 287.43" stroke="#595959" stroke-width="2.3" fill="none" stroke-linejoin="round" stroke-linecap="round"/>
<rect x="60.89" y="341.65" width="8.00" height="2.5" fill="#595959"/>
<rect x="93.46" y="332.23" width="8.00" height="2.5" fill="#595959"/>
<rect x="126.04" y="309.73" width="8.00" height="2.5" fill="#595959"/>
<rect x="158.61" y="294.55" width="8.00" height="2.5" fill="#595959"/>
<rect x="191.19" y="290.89" width="8.00" height="2.5" fill="#595959"/>
<rect x="223.76" y="288.17" width="8.00" height="2.5" fill="#595959"/>
<rect x="256.34" y="286.91" width="8.00" height="2.5" fill="#595959"/>
<rect x="288.91" y="286.18" width="8.00" height="2.5" fill="#595959"/>
<path d="M64.89 342.90L97.46 342.90L130.04 316.42L162.61 303.34L195.19 299.67L227.76 296.85L260.34 295.90L292.91 295.28" stroke="#b4b4b4" stroke-width="2.3" fill="none" stroke-linejoin="round" stroke-linecap="round"/>
<rect x="60.89" y="341.65" width="8.00" height="2.5" fill="#b4b4b4"/>
<rect x="93.46" y="341.65" width="8.00" height="2.5" fill="#b4b4b4"/>
<rect x="126.04" y="315.17" width="8.00" height="2.5" fill="#b4b4b4"/>
<rect x="158.61" y="302.09" width="8.00" height="2.5" fill="#b4b4b4"/>
<rect x="191.19" y="298.42" width="8.00" height="2.5" fill="#b4b4b4"/>
<rect x="223.76" y="295.60" width="8.00" height="2.5" fill="#b4b4b4"/>
<rect x="256.34" y="294.65" width="8.00" height="2.5" fill="#b4b4b4"/>
<rect x="288.91" y="294.03" width="8.00" height="2.5" fill="#b4b4b4"/>
<path d="M64.89 342.90L97.46 342.90L130.04 327.51L162.61 312.02L195.19 306.37L227.76 303.23L260.34 302.18L292.91 301.45" stroke="#8c8c8c" stroke-width="2.3" fill="none" stroke-linejoin="round" stroke-linecap="round"/>
<path d="M64.89 338.40L69.39 342.90L64.89 347.40L60.39 342.90Z" fill="#8c8c8c"/>
<path d="M97.46 338.40L101.96 342.90L97.46 347.40L92.96 342.90Z" fill="#8c8c8c"/>
<path d="M130.04 323.01L134.54 327.51L130.04 332.01L125.54 327.51Z" fill="#8c8c8c"/>
<path d="M162.61 307.52L167.11 312.02L162.61 316.52L158.11 312.02Z" fill="#8c8c8c"/>
<path d="M195.19 301.87L199.69 306.37L195.19 310.87L190.69 306.37Z" fill="#8c8c8c"/>
<path d="M227.76 298.73L232.26 303.23L227.76 307.73L223.26 303.23Z" fill="#8c8c8c"/>
<path d="M260.34 297.68L264.84 302.18L260.34 306.68L255.84 302.18Z" fill="#8c8c8c"/>
<path d="M292.91 296.95L297.41 301.45L292.91 305.95L288.41 301.45Z" fill="#8c8c8c"/>
<path d="M20.20 208.00L45.60 208.00" stroke="#595959" stroke-width="2"/>
<path d="M32.90 204.94L35.96 208.00L32.90 211.06L29.84 208.00Z" fill="#595959"/>
<text x="47.80" y="211.30" font-size="10" fill="#161616">Control</text>
<path d="M120.60 208.00L145.40 208.00" stroke="#b1b1b1" stroke-width="2"/>
<rect x="130.21" y="205.21" width="5.58" height="5.58" fill="#b1b1b1"/>
<text x="149.00" y="211.30" font-size="10" fill="#161616">pH 2</text>
<path d="M224.80 208.00L250.20 208.00" stroke="#848484" stroke-width="2"/>
<path d="M237.50 205.21L240.29 210.79L234.71 210.79Z" fill="#848484"/>
<text x="252.50" y="211.30" font-size="10" fill="#161616">pH 3</text>
<path d="M20.20 217.90L45.60 217.90" stroke="#111111" stroke-width="2"/>
<path d="M30.18 215.18L35.62 220.62M30.18 220.62L35.62 215.18" stroke="#111111" stroke-width="1.12" fill="none"/>
<text x="47.80" y="221.20" font-size="10" fill="#161616">1% bile salt</text>
<path d="M120.60 217.90L145.40 217.90" stroke="#dcdcdc" stroke-width="2"/>
<path d="M130.42 215.32L135.58 220.48M130.42 220.48L135.58 215.32M133.00 215.32L133.00 220.48" stroke="#dcdcdc" stroke-width="1.20" fill="none"/>
<text x="149.00" y="221.20" font-size="10" fill="#161616">0,5% bile salt</text>
<path d="M224.80 217.90L250.20 217.90" stroke="#a8a8a8" stroke-width="2"/>
<circle cx="237.50" cy="217.90" r="2.79" fill="#a8a8a8"/>
<text x="252.50" y="221.20" font-size="10" fill="#161616">0,25% bile salt</text>
<path d="M20.20 227.80L45.60 227.80" stroke="#808080" stroke-width="2"/>
<path d="M30.04 227.80L35.76 227.80M32.90 224.94L32.90 230.66" stroke="#808080" stroke-width="0.96" fill="none"/>
<text x="47.80" y="231.10" font-size="10" fill="#161616">2% NaCl</text>
<path d="M120.60 227.80L145.40 227.80" stroke="#595959" stroke-width="2"/>
<text x="149.00" y="231.10" font-size="10" fill="#161616">4% NaCl</text>
<path d="M224.80 227.80L250.20 227.80" stroke="#b4b4b4" stroke-width="2"/>
<text x="252.50" y="231.10" font-size="10" fill="#161616">6% NaCl</text>
<path d="M20.20 237.80L45.60 237.80" stroke="#8c8c8c" stroke-width="2"/>
<path d="M32.90 234.74L35.96 237.80L32.90 240.86L29.84 237.80Z" fill="#8c8c8c"/>
<text x="47.80" y="241.10" font-size="10" fill="#161616">8% NaCl</text>
<rect x="354.5" y="197.5" width="321.0" height="178.5" fill="#fff" stroke="#d7d7d7" stroke-width="1"/>
<path d="M401.70 253.80L401.70 341.30M434.22 253.80L434.22 341.30M466.75 253.80L466.75 341.30M499.27 253.80L499.27 341.30M531.80 253.80L531.80 341.30M564.33 253.80L564.33 341.30M596.85 253.80L596.85 341.30M629.38 253.80L629.38 341.30M661.90 253.80L661.90 341.30M401.70 341.30L661.90 341.30" stroke="#dcdcdc" stroke-width="1" fill="none"/>
<text x="393.50" y="344.60" font-size="10" text-anchor="end" fill="#161616">1.0</text>
<text x="393.50" y="315.43" font-size="10" text-anchor="end" fill="#161616">1.3</text>
<text x="393.50" y="286.27" font-size="10" text-anchor="end" fill="#161616">1.6</text>
<text x="393.50" y="257.10" font-size="10" text-anchor="end" fill="#161616">1.9</text>
<text transform="translate(374.50 298.35) rotate(-90)" font-size="10" text-anchor="middle" fill="#161616">OD600</text>
<text x="417.06" y="356.90" font-size="10" text-anchor="middle" fill="#161616">0</text>
<text x="449.59" y="356.90" font-size="10" text-anchor="middle" fill="#161616">2</text>
<text x="482.11" y="356.90" font-size="10" text-anchor="middle" fill="#161616">4</text>
<text x="514.64" y="356.90" font-size="10" text-anchor="middle" fill="#161616">8</text>
<text x="548.36" y="356.90" font-size="10" text-anchor="middle" fill="#161616" letter-spacing="1.6">12</text>
<text x="580.89" y="356.90" font-size="10" text-anchor="middle" fill="#161616" letter-spacing="1.6">16</text>
<text x="613.41" y="356.90" font-size="10" text-anchor="middle" fill="#161616" letter-spacing="1.6">20</text>
<text x="645.94" y="356.90" font-size="10" text-anchor="middle" fill="#161616" letter-spacing="1.6">24</text>
<text x="531.80" y="370.80" font-size="10" text-anchor="middle" fill="#161616">HOURS</text>
<text transform="translate(373.5 371) scale(0.9 1)" class="pl" font-size="13.7" fill="#111">D</text>
<path d="M417.96 341.30L450.49 313.49L483.01 296.58L515.54 287.44L548.06 286.86L580.59 287.44L613.11 287.83L645.64 287.83" stroke="#595959" stroke-width="2.3" fill="none" stroke-linejoin="round" stroke-linecap="round"/>
<path d="M417.96 336.80L422.46 341.30L417.96 345.80L413.46 341.30Z" fill="#595959"/>
<path d="M450.49 308.99L454.99 313.49L450.49 317.99L445.99 313.49Z" fill="#595959"/>
<path d="M483.01 292.08L487.51 296.58L483.01 301.08L478.51 296.58Z" fill="#595959"/>
<path d="M515.54 282.94L520.04 287.44L515.54 291.94L511.04 287.44Z" fill="#595959"/>
<path d="M548.06 282.36L552.56 286.86L548.06 291.36L543.56 286.86Z" fill="#595959"/>
<path d="M580.59 282.94L585.09 287.44L580.59 291.94L576.09 287.44Z" fill="#595959"/>
<path d="M613.11 283.33L617.61 287.83L613.11 292.33L608.61 287.83Z" fill="#595959"/>
<path d="M645.64 283.33L650.14 287.83L645.64 292.33L641.14 287.83Z" fill="#595959"/>
<path d="M417.96 341.30L450.49 341.30L483.01 323.80L515.54 319.33L548.06 318.16L580.59 317.48L613.11 316.99L645.64 316.41" stroke="#b1b1b1" stroke-width="2.3" fill="none" stroke-linejoin="round" stroke-linecap="round"/>
<rect x="413.86" y="337.20" width="8.20" height="8.20" fill="#b1b1b1"/>
<rect x="446.39" y="337.20" width="8.20" height="8.20" fill="#b1b1b1"/>
<rect x="478.91" y="319.70" width="8.20" height="8.20" fill="#b1b1b1"/>
<rect x="511.44" y="315.23" width="8.20" height="8.20" fill="#b1b1b1"/>
<rect x="543.96" y="314.06" width="8.20" height="8.20" fill="#b1b1b1"/>
<rect x="576.49" y="313.38" width="8.20" height="8.20" fill="#b1b1b1"/>
<rect x="609.01" y="312.89" width="8.20" height="8.20" fill="#b1b1b1"/>
<rect x="641.54" y="312.31" width="8.20" height="8.20" fill="#b1b1b1"/>
<path d="M417.96 341.30L450.49 321.86L483.01 305.33L515.54 295.61L548.06 292.69L580.59 290.74L613.11 289.29L645.64 288.31" stroke="#848484" stroke-width="2.3" fill="none" stroke-linejoin="round" stroke-linecap="round"/>
<path d="M417.96 337.20L422.06 345.40L413.86 345.40Z" fill="#848484"/>
<path d="M450.49 317.76L454.59 325.96L446.39 325.96Z" fill="#848484"/>
<path d="M483.01 301.23L487.11 309.43L478.91 309.43Z" fill="#848484"/>
<path d="M515.54 291.51L519.64 299.71L511.44 299.71Z" fill="#848484"/>
<path d="M548.06 288.59L552.16 296.79L543.96 296.79Z" fill="#848484"/>
<path d="M580.59 286.64L584.69 294.84L576.49 294.84Z" fill="#848484"/>
<path d="M613.11 285.19L617.21 293.39L609.01 293.39Z" fill="#848484"/>
<path d="M645.64 284.21L649.74 292.41L641.54 292.41Z" fill="#848484"/>
<path d="M417.96 341.30L450.49 341.30L483.01 341.30L515.54 333.52L548.06 329.24L580.59 327.69L613.11 326.62L645.64 324.58" stroke="#111111" stroke-width="2.0" fill="none" stroke-linejoin="round" stroke-linecap="round"/>
<path d="M479.01 337.30L487.01 345.30M479.01 345.30L487.01 337.30" stroke="#111111" stroke-width="1.40" fill="none"/>
<path d="M511.54 329.52L519.54 337.52M511.54 337.52L519.54 329.52" stroke="#111111" stroke-width="1.40" fill="none"/>
<path d="M544.06 325.24L552.06 333.24M544.06 333.24L552.06 325.24" stroke="#111111" stroke-width="1.40" fill="none"/>
<path d="M576.59 323.69L584.59 331.69M576.59 331.69L584.59 323.69" stroke="#111111" stroke-width="1.40" fill="none"/>
<path d="M609.11 322.62L617.11 330.62M609.11 330.62L617.11 322.62" stroke="#111111" stroke-width="1.40" fill="none"/>
<path d="M641.64 320.58L649.64 328.58M641.64 328.58L649.64 320.58" stroke="#111111" stroke-width="1.40" fill="none"/>
<path d="M417.96 341.30L450.49 341.30L483.01 331.58L515.54 323.80L548.06 319.43L580.59 317.97L613.11 316.99L645.64 316.41" stroke="#dcdcdc" stroke-width="2.3" fill="none" stroke-linejoin="round" stroke-linecap="round"/>
<path d="M414.16 337.50L421.76 345.10M414.16 345.10L421.76 337.50M417.96 337.50L417.96 345.10" stroke="#dcdcdc" stroke-width="1.50" fill="none"/>
<path d="M446.69 337.50L454.29 345.10M446.69 345.10L454.29 337.50M450.49 337.50L450.49 345.10" stroke="#dcdcdc" stroke-width="1.50" fill="none"/>
<path d="M479.21 327.78L486.81 335.38M479.21 335.38L486.81 327.78M483.01 327.78L483.01 335.38" stroke="#dcdcdc" stroke-width="1.50" fill="none"/>
<path d="M511.74 320.00L519.34 327.60M511.74 327.60L519.34 320.00M515.54 320.00L515.54 327.60" stroke="#dcdcdc" stroke-width="1.50" fill="none"/>
<path d="M544.26 315.62L551.86 323.23M544.26 323.23L551.86 315.62M548.06 315.62L548.06 323.23" stroke="#dcdcdc" stroke-width="1.50" fill="none"/>
<path d="M576.79 314.17L584.39 321.77M576.79 321.77L584.39 314.17M580.59 314.17L580.59 321.77" stroke="#dcdcdc" stroke-width="1.50" fill="none"/>
<path d="M609.31 313.19L616.91 320.79M609.31 320.79L616.91 313.19M613.11 313.19L613.11 320.79" stroke="#dcdcdc" stroke-width="1.50" fill="none"/>
<path d="M641.84 312.61L649.44 320.21M641.84 320.21L649.44 312.61M645.64 312.61L645.64 320.21" stroke="#dcdcdc" stroke-width="1.50" fill="none"/>
<path d="M417.96 341.30L450.49 337.51L483.01 320.11L515.54 310.19L548.06 306.79L580.59 304.84L613.11 303.58L645.64 302.80" stroke="#a8a8a8" stroke-width="2.3" fill="none" stroke-linejoin="round" stroke-linecap="round"/>
<circle cx="417.96" cy="341.30" r="4.10" fill="#a8a8a8"/>
<circle cx="450.49" cy="337.51" r="4.10" fill="#a8a8a8"/>
<circle cx="483.01" cy="320.11" r="4.10" fill="#a8a8a8"/>
<circle cx="515.54" cy="310.19" r="4.10" fill="#a8a8a8"/>
<circle cx="548.06" cy="306.79" r="4.10" fill="#a8a8a8"/>
<circle cx="580.59" cy="304.84" r="4.10" fill="#a8a8a8"/>
<circle cx="613.11" cy="303.58" r="4.10" fill="#a8a8a8"/>
<circle cx="645.64" cy="302.80" r="4.10" fill="#a8a8a8"/>
<path d="M417.96 341.30L450.49 320.88L483.01 303.38L515.54 293.66L548.06 291.72L580.59 290.26L613.11 289.77L645.64 289.29" stroke="#808080" stroke-width="2.3" fill="none" stroke-linejoin="round" stroke-linecap="round"/>
<path d="M413.76 341.30L422.16 341.30M417.96 337.10L417.96 345.50" stroke="#808080" stroke-width="1.20" fill="none"/>
<path d="M446.29 320.88L454.69 320.88M450.49 316.68L450.49 325.08" stroke="#808080" stroke-width="1.20" fill="none"/>
<path d="M478.81 303.38L487.21 303.38M483.01 299.18L483.01 307.58" stroke="#808080" stroke-width="1.20" fill="none"/>
<path d="M511.34 293.66L519.74 293.66M515.54 289.46L515.54 297.86" stroke="#808080" stroke-width="1.20" fill="none"/>
<path d="M543.86 291.72L552.26 291.72M548.06 287.52L548.06 295.92" stroke="#808080" stroke-width="1.20" fill="none"/>
<path d="M576.39 290.26L584.79 290.26M580.59 286.06L580.59 294.46" stroke="#808080" stroke-width="1.20" fill="none"/>
<path d="M608.91 289.77L617.31 289.77M613.11 285.57L613.11 293.97" stroke="#808080" stroke-width="1.20" fill="none"/>
<path d="M641.44 289.29L649.84 289.29M645.64 285.09L645.64 293.49" stroke="#808080" stroke-width="1.20" fill="none"/>
<path d="M417.96 341.30L450.49 321.86L483.01 304.36L515.54 294.63L548.06 292.20L580.59 290.74L613.11 290.26L645.64 289.77" stroke="#595959" stroke-width="2.3" fill="none" stroke-linejoin="round" stroke-linecap="round"/>
<rect x="413.96" y="340.05" width="8.00" height="2.5" fill="#595959"/>
<rect x="446.49" y="320.61" width="8.00" height="2.5" fill="#595959"/>
<rect x="479.01" y="303.11" width="8.00" height="2.5" fill="#595959"/>
<rect x="511.54" y="293.38" width="8.00" height="2.5" fill="#595959"/>
<rect x="544.06" y="290.95" width="8.00" height="2.5" fill="#595959"/>
<rect x="576.59" y="289.49" width="8.00" height="2.5" fill="#595959"/>
<rect x="609.11" y="289.01" width="8.00" height="2.5" fill="#595959"/>
<rect x="641.64" y="288.52" width="8.00" height="2.5" fill="#595959"/>
<path d="M417.96 341.30L450.49 324.77L483.01 309.22L515.54 298.52L548.06 295.61L580.59 293.66L613.11 292.20L645.64 291.23" stroke="#b4b4b4" stroke-width="2.3" fill="none" stroke-linejoin="round" stroke-linecap="round"/>
<rect x="413.96" y="340.05" width="8.00" height="2.5" fill="#b4b4b4"/>
<rect x="446.49" y="323.52" width="8.00" height="2.5" fill="#b4b4b4"/>
<rect x="479.01" y="307.97" width="8.00" height="2.5" fill="#b4b4b4"/>
<rect x="511.54" y="297.27" width="8.00" height="2.5" fill="#b4b4b4"/>
<rect x="544.06" y="294.36" width="8.00" height="2.5" fill="#b4b4b4"/>
<rect x="576.59" y="292.41" width="8.00" height="2.5" fill="#b4b4b4"/>
<rect x="609.11" y="290.95" width="8.00" height="2.5" fill="#b4b4b4"/>
<rect x="641.64" y="289.98" width="8.00" height="2.5" fill="#b4b4b4"/>
<path d="M417.96 341.30L450.49 327.59L483.01 312.13L515.54 303.09L548.06 300.76L580.59 299.11L613.11 298.04L645.64 297.06" stroke="#8c8c8c" stroke-width="2.3" fill="none" stroke-linejoin="round" stroke-linecap="round"/>
<path d="M417.96 336.80L422.46 341.30L417.96 345.80L413.46 341.30Z" fill="#8c8c8c"/>
<path d="M450.49 323.09L454.99 327.59L450.49 332.09L445.99 327.59Z" fill="#8c8c8c"/>
<path d="M483.01 307.63L487.51 312.13L483.01 316.63L478.51 312.13Z" fill="#8c8c8c"/>
<path d="M515.54 298.59L520.04 303.09L515.54 307.59L511.04 303.09Z" fill="#8c8c8c"/>
<path d="M548.06 296.26L552.56 300.76L548.06 305.26L543.56 300.76Z" fill="#8c8c8c"/>
<path d="M580.59 294.61L585.09 299.11L580.59 303.61L576.09 299.11Z" fill="#8c8c8c"/>
<path d="M613.11 293.54L617.61 298.04L613.11 302.54L608.61 298.04Z" fill="#8c8c8c"/>
<path d="M645.64 292.56L650.14 297.06L645.64 301.56L641.14 297.06Z" fill="#8c8c8c"/>
<path d="M371.40 207.80L396.60 207.80" stroke="#595959" stroke-width="2"/>
<path d="M384.00 204.74L387.06 207.80L384.00 210.86L380.94 207.80Z" fill="#595959"/>
<text x="399.00" y="211.10" font-size="10" fill="#161616">Control</text>
<path d="M473.00 207.80L497.80 207.80" stroke="#b1b1b1" stroke-width="2"/>
<rect x="482.61" y="205.01" width="5.58" height="5.58" fill="#b1b1b1"/>
<text x="500.20" y="211.10" font-size="10" fill="#161616">pH 2</text>
<path d="M575.60 207.80L601.00 207.80" stroke="#848484" stroke-width="2"/>
<path d="M588.30 205.01L591.09 210.59L585.51 210.59Z" fill="#848484"/>
<text x="603.40" y="211.10" font-size="10" fill="#161616">pH 3</text>
<path d="M371.40 219.10L396.60 219.10" stroke="#111111" stroke-width="2"/>
<path d="M381.28 216.38L386.72 221.82M381.28 221.82L386.72 216.38" stroke="#111111" stroke-width="1.12" fill="none"/>
<text x="399.00" y="222.40" font-size="10" fill="#161616">1% bile salt</text>
<path d="M473.00 219.10L497.80 219.10" stroke="#dcdcdc" stroke-width="2"/>
<path d="M482.82 216.52L487.98 221.68M482.82 221.68L487.98 216.52M485.40 216.52L485.40 221.68" stroke="#dcdcdc" stroke-width="1.20" fill="none"/>
<text x="500.20" y="222.40" font-size="10" fill="#161616">0,5% bile salt</text>
<path d="M575.60 219.10L601.00 219.10" stroke="#a8a8a8" stroke-width="2"/>
<circle cx="588.30" cy="219.10" r="2.79" fill="#a8a8a8"/>
<text x="603.40" y="222.40" font-size="10" fill="#161616">0,25% bile salt</text>
<path d="M371.40 229.90L396.60 229.90" stroke="#808080" stroke-width="2"/>
<path d="M381.14 229.90L386.86 229.90M384.00 227.04L384.00 232.76" stroke="#808080" stroke-width="0.96" fill="none"/>
<text x="399.00" y="233.20" font-size="10" fill="#161616">2% NaCl</text>
<path d="M473.00 229.90L497.80 229.90" stroke="#595959" stroke-width="2"/>
<text x="500.20" y="233.20" font-size="10" fill="#161616">4% NaCl</text>
<path d="M575.60 229.90L601.00 229.90" stroke="#b4b4b4" stroke-width="2"/>
<text x="603.40" y="233.20" font-size="10" fill="#161616">6% NaCl</text>
<path d="M371.40 240.70L396.60 240.70" stroke="#8c8c8c" stroke-width="2"/>
<path d="M384.00 237.64L387.06 240.70L384.00 243.76L380.94 240.70Z" fill="#8c8c8c"/>
<text x="399.00" y="244.00" font-size="10" fill="#161616">8% NaCl</text>
<rect x="0.5" y="378" width="321.0" height="178.29999999999995" fill="#fff" stroke="#d7d7d7" stroke-width="1"/>
<path d="M51.40 433.60L51.40 521.80M83.21 433.60L83.21 521.80M115.02 433.60L115.02 521.80M146.84 433.60L146.84 521.80M178.65 433.60L178.65 521.80M210.46 433.60L210.46 521.80M242.27 433.60L242.27 521.80M274.09 433.60L274.09 521.80M305.90 433.60L305.90 521.80M51.40 521.80L305.90 521.80" stroke="#dcdcdc" stroke-width="1" fill="none"/>
<text x="43.80" y="525.10" font-size="10" text-anchor="end" fill="#161616">1.0</text>
<text x="43.80" y="495.70" font-size="10" text-anchor="end" fill="#161616">1.3</text>
<text x="43.80" y="466.30" font-size="10" text-anchor="end" fill="#161616">1.6</text>
<text x="43.80" y="436.90" font-size="10" text-anchor="end" fill="#161616">1.9</text>
<text transform="translate(25.00 477.50) rotate(-90)" font-size="10" text-anchor="middle" fill="#161616">OD600</text>
<text x="66.41" y="538.10" font-size="10" text-anchor="middle" fill="#161616">0</text>
<text x="98.22" y="538.10" font-size="10" text-anchor="middle" fill="#161616">2</text>
<text x="130.03" y="538.10" font-size="10" text-anchor="middle" fill="#161616">4</text>
<text x="161.84" y="538.10" font-size="10" text-anchor="middle" fill="#161616">8</text>
<text x="194.86" y="538.10" font-size="10" text-anchor="middle" fill="#161616" letter-spacing="1.6">12</text>
<text x="226.67" y="538.10" font-size="10" text-anchor="middle" fill="#161616" letter-spacing="1.6">16</text>
<text x="258.48" y="538.10" font-size="10" text-anchor="middle" fill="#161616" letter-spacing="1.6">20</text>
<text x="290.29" y="538.10" font-size="10" text-anchor="middle" fill="#161616" letter-spacing="1.6">24</text>
<text x="178.65" y="553.20" font-size="10" text-anchor="middle" fill="#161616">HOURS</text>
<text transform="translate(20.0 552) scale(0.66 1)" class="pl" font-size="13.7" fill="#111">E</text>
<path d="M67.31 521.80L99.12 510.24L130.93 492.60L162.74 478.68L194.56 472.51L226.37 469.47L258.18 468.00L289.99 466.72" stroke="#595959" stroke-width="2.3" fill="none" stroke-linejoin="round" stroke-linecap="round"/>
<path d="M67.31 517.30L71.81 521.80L67.31 526.30L62.81 521.80Z" fill="#595959"/>
<path d="M99.12 505.74L103.62 510.24L99.12 514.74L94.62 510.24Z" fill="#595959"/>
<path d="M130.93 488.10L135.43 492.60L130.93 497.10L126.43 492.60Z" fill="#595959"/>
<path d="M162.74 474.18L167.24 478.68L162.74 483.18L158.24 478.68Z" fill="#595959"/>
<path d="M194.56 468.01L199.06 472.51L194.56 477.01L190.06 472.51Z" fill="#595959"/>
<path d="M226.37 464.97L230.87 469.47L226.37 473.97L221.87 469.47Z" fill="#595959"/>
<path d="M258.18 463.50L262.68 468.00L258.18 472.50L253.68 468.00Z" fill="#595959"/>
<path d="M289.99 462.22L294.49 466.72L289.99 471.22L285.49 466.72Z" fill="#595959"/>
<path d="M67.31 521.80L99.12 521.80L130.93 516.90L162.74 507.10L194.56 506.61L226.37 508.37L258.18 510.43L289.99 511.71" stroke="#b1b1b1" stroke-width="2.3" fill="none" stroke-linejoin="round" stroke-linecap="round"/>
<rect x="63.21" y="517.70" width="8.20" height="8.20" fill="#b1b1b1"/>
<rect x="95.02" y="517.70" width="8.20" height="8.20" fill="#b1b1b1"/>
<rect x="126.83" y="512.80" width="8.20" height="8.20" fill="#b1b1b1"/>
<rect x="158.64" y="503.00" width="8.20" height="8.20" fill="#b1b1b1"/>
<rect x="190.46" y="502.51" width="8.20" height="8.20" fill="#b1b1b1"/>
<rect x="222.27" y="504.27" width="8.20" height="8.20" fill="#b1b1b1"/>
<rect x="254.08" y="506.33" width="8.20" height="8.20" fill="#b1b1b1"/>
<rect x="285.89" y="507.61" width="8.20" height="8.20" fill="#b1b1b1"/>
<path d="M67.31 521.80L99.12 511.31L130.93 501.91L162.74 497.79L194.56 497.30L226.37 496.52L258.18 495.34L289.99 494.75" stroke="#848484" stroke-width="2.3" fill="none" stroke-linejoin="round" stroke-linecap="round"/>
<path d="M67.31 517.70L71.41 525.90L63.21 525.90Z" fill="#848484"/>
<path d="M99.12 507.21L103.22 515.41L95.02 515.41Z" fill="#848484"/>
<path d="M130.93 497.81L135.03 506.01L126.83 506.01Z" fill="#848484"/>
<path d="M162.74 493.69L166.84 501.89L158.64 501.89Z" fill="#848484"/>
<path d="M194.56 493.20L198.66 501.40L190.46 501.40Z" fill="#848484"/>
<path d="M226.37 492.42L230.47 500.62L222.27 500.62Z" fill="#848484"/>
<path d="M258.18 491.24L262.28 499.44L254.08 499.44Z" fill="#848484"/>
<path d="M289.99 490.65L294.09 498.85L285.89 498.85Z" fill="#848484"/>
<path d="M67.31 521.80L99.12 521.80L130.93 521.80L162.74 521.80L194.56 521.80L226.37 521.80L258.18 521.80L289.99 521.80" stroke="#111111" stroke-width="2.0" fill="none" stroke-linejoin="round" stroke-linecap="round"/>
<path d="M67.31 521.80L99.12 521.80L130.93 521.80L162.74 521.80L194.56 521.80L226.37 521.80L258.18 521.80L289.99 521.80" stroke="#dcdcdc" stroke-width="2.3" fill="none" stroke-linejoin="round" stroke-linecap="round"/>
<path d="M63.51 518.00L71.11 525.60M63.51 525.60L71.11 518.00M67.31 518.00L67.31 525.60" stroke="#dcdcdc" stroke-width="1.50" fill="none"/>
<path d="M95.32 518.00L102.92 525.60M95.32 525.60L102.92 518.00M99.12 518.00L99.12 525.60" stroke="#dcdcdc" stroke-width="1.50" fill="none"/>
<path d="M127.13 518.00L134.73 525.60M127.13 525.60L134.73 518.00M130.93 518.00L130.93 525.60" stroke="#dcdcdc" stroke-width="1.50" fill="none"/>
<path d="M158.94 518.00L166.54 525.60M158.94 525.60L166.54 518.00M162.74 518.00L162.74 525.60" stroke="#dcdcdc" stroke-width="1.50" fill="none"/>
<path d="M190.76 518.00L198.36 525.60M190.76 525.60L198.36 518.00M194.56 518.00L194.56 525.60" stroke="#dcdcdc" stroke-width="1.50" fill="none"/>
<path d="M222.57 518.00L230.17 525.60M222.57 525.60L230.17 518.00M226.37 518.00L226.37 525.60" stroke="#dcdcdc" stroke-width="1.50" fill="none"/>
<path d="M254.38 518.00L261.98 525.60M254.38 525.60L261.98 518.00M258.18 518.00L258.18 525.60" stroke="#dcdcdc" stroke-width="1.50" fill="none"/>
<path d="M286.19 518.00L293.79 525.60M286.19 525.60L293.79 518.00M289.99 518.00L289.99 525.60" stroke="#dcdcdc" stroke-width="1.50" fill="none"/>
<path d="M67.31 521.80L99.12 521.80L130.93 516.51L162.74 514.45L194.56 514.25L226.37 514.25L258.18 514.25L289.99 514.25" stroke="#a8a8a8" stroke-width="2.3" fill="none" stroke-linejoin="round" stroke-linecap="round"/>
<circle cx="67.31" cy="521.80" r="4.10" fill="#a8a8a8"/>
<circle cx="99.12" cy="521.80" r="4.10" fill="#a8a8a8"/>
<circle cx="130.93" cy="516.51" r="4.10" fill="#a8a8a8"/>
<circle cx="162.74" cy="514.45" r="4.10" fill="#a8a8a8"/>
<circle cx="194.56" cy="514.25" r="4.10" fill="#a8a8a8"/>
<circle cx="226.37" cy="514.25" r="4.10" fill="#a8a8a8"/>
<circle cx="258.18" cy="514.25" r="4.10" fill="#a8a8a8"/>
<circle cx="289.99" cy="514.25" r="4.10" fill="#a8a8a8"/>
<path d="M67.31 521.80L99.12 496.81L130.93 487.50L162.74 481.62L194.56 480.84L226.37 480.35L258.18 479.86L289.99 479.46" stroke="#808080" stroke-width="2.3" fill="none" stroke-linejoin="round" stroke-linecap="round"/>
<path d="M63.11 521.80L71.51 521.80M67.31 517.60L67.31 526.00" stroke="#808080" stroke-width="1.20" fill="none"/>
<path d="M94.92 496.81L103.32 496.81M99.12 492.61L99.12 501.01" stroke="#808080" stroke-width="1.20" fill="none"/>
<path d="M126.73 487.50L135.13 487.50M130.93 483.30L130.93 491.70" stroke="#808080" stroke-width="1.20" fill="none"/>
<path d="M158.54 481.62L166.94 481.62M162.74 477.42L162.74 485.82" stroke="#808080" stroke-width="1.20" fill="none"/>
<path d="M190.36 480.84L198.76 480.84M194.56 476.64L194.56 485.04" stroke="#808080" stroke-width="1.20" fill="none"/>
<path d="M222.17 480.35L230.57 480.35M226.37 476.15L226.37 484.55" stroke="#808080" stroke-width="1.20" fill="none"/>
<path d="M253.98 479.86L262.38 479.86M258.18 475.66L258.18 484.06" stroke="#808080" stroke-width="1.20" fill="none"/>
<path d="M285.79 479.46L294.19 479.46M289.99 475.26L289.99 483.66" stroke="#808080" stroke-width="1.20" fill="none"/>
<path d="M67.31 521.80L99.12 498.28L130.93 487.99L162.74 482.60L194.56 482.11L226.37 481.42L258.18 480.84L289.99 480.44" stroke="#595959" stroke-width="2.3" fill="none" stroke-linejoin="round" stroke-linecap="round"/>
<rect x="63.31" y="520.55" width="8.00" height="2.5" fill="#595959"/>
<rect x="95.12" y="497.03" width="8.00" height="2.5" fill="#595959"/>
<rect x="126.93" y="486.74" width="8.00" height="2.5" fill="#595959"/>
<rect x="158.74" y="481.35" width="8.00" height="2.5" fill="#595959"/>
<rect x="190.56" y="480.86" width="8.00" height="2.5" fill="#595959"/>
<rect x="222.37" y="480.17" width="8.00" height="2.5" fill="#595959"/>
<rect x="254.18" y="479.59" width="8.00" height="2.5" fill="#595959"/>
<rect x="285.99" y="479.19" width="8.00" height="2.5" fill="#595959"/>
<path d="M67.31 521.80L99.12 496.32L130.93 486.52L162.74 482.11L194.56 481.62L226.37 481.23L258.18 480.64L289.99 480.25" stroke="#b4b4b4" stroke-width="2.3" fill="none" stroke-linejoin="round" stroke-linecap="round"/>
<rect x="63.31" y="520.55" width="8.00" height="2.5" fill="#b4b4b4"/>
<rect x="95.12" y="495.07" width="8.00" height="2.5" fill="#b4b4b4"/>
<rect x="126.93" y="485.27" width="8.00" height="2.5" fill="#b4b4b4"/>
<rect x="158.74" y="480.86" width="8.00" height="2.5" fill="#b4b4b4"/>
<rect x="190.56" y="480.37" width="8.00" height="2.5" fill="#b4b4b4"/>
<rect x="222.37" y="479.98" width="8.00" height="2.5" fill="#b4b4b4"/>
<rect x="254.18" y="479.39" width="8.00" height="2.5" fill="#b4b4b4"/>
<rect x="285.99" y="479.00" width="8.00" height="2.5" fill="#b4b4b4"/>
<path d="M67.31 521.80L99.12 494.65L130.93 485.34L162.74 482.60L194.56 483.19L226.37 483.87L258.18 484.66L289.99 485.64" stroke="#8c8c8c" stroke-width="2.3" fill="none" stroke-linejoin="round" stroke-linecap="round"/>
<path d="M67.31 517.30L71.81 521.80L67.31 526.30L62.81 521.80Z" fill="#8c8c8c"/>
<path d="M99.12 490.15L103.62 494.65L99.12 499.15L94.62 494.65Z" fill="#8c8c8c"/>
<path d="M130.93 480.84L135.43 485.34L130.93 489.84L126.43 485.34Z" fill="#8c8c8c"/>
<path d="M162.74 478.10L167.24 482.60L162.74 487.10L158.24 482.60Z" fill="#8c8c8c"/>
<path d="M194.56 478.69L199.06 483.19L194.56 487.69L190.06 483.19Z" fill="#8c8c8c"/>
<path d="M226.37 479.37L230.87 483.87L226.37 488.37L221.87 483.87Z" fill="#8c8c8c"/>
<path d="M258.18 480.16L262.68 484.66L258.18 489.16L253.68 484.66Z" fill="#8c8c8c"/>
<path d="M289.99 481.14L294.49 485.64L289.99 490.14L285.49 485.64Z" fill="#8c8c8c"/>
<path d="M19.20 391.60L45.10 391.60" stroke="#595959" stroke-width="2"/>
<path d="M32.15 388.54L35.21 391.60L32.15 394.66L29.09 391.60Z" fill="#595959"/>
<text x="47.20" y="394.90" font-size="10" fill="#161616">Control</text>
<path d="M120.60 391.60L145.60 391.60" stroke="#b1b1b1" stroke-width="2"/>
<rect x="130.31" y="388.81" width="5.58" height="5.58" fill="#b1b1b1"/>
<text x="148.00" y="394.90" font-size="10" fill="#161616">pH 2</text>
<path d="M223.90 391.60L249.30 391.60" stroke="#848484" stroke-width="2"/>
<path d="M236.60 388.81L239.39 394.39L233.81 394.39Z" fill="#848484"/>
<text x="251.00" y="394.90" font-size="10" fill="#161616">pH 3</text>
<path d="M19.20 401.90L45.10 401.90" stroke="#111111" stroke-width="2"/>
<path d="M29.43 399.18L34.87 404.62M29.43 404.62L34.87 399.18" stroke="#111111" stroke-width="1.12" fill="none"/>
<text x="47.20" y="405.20" font-size="10" fill="#161616">1% bile salt</text>
<path d="M120.60 401.90L145.60 401.90" stroke="#dcdcdc" stroke-width="2"/>
<path d="M130.52 399.32L135.68 404.48M130.52 404.48L135.68 399.32M133.10 399.32L133.10 404.48" stroke="#dcdcdc" stroke-width="1.20" fill="none"/>
<text x="148.00" y="405.20" font-size="10" fill="#161616">0,5% bile salt</text>
<path d="M223.90 401.90L249.30 401.90" stroke="#a8a8a8" stroke-width="2"/>
<circle cx="236.60" cy="401.90" r="2.79" fill="#a8a8a8"/>
<text x="251.00" y="405.20" font-size="10" fill="#161616">0,25% bile salt</text>
<path d="M19.20 412.40L45.10 412.40" stroke="#808080" stroke-width="2"/>
<path d="M29.29 412.40L35.01 412.40M32.15 409.54L32.15 415.26" stroke="#808080" stroke-width="0.96" fill="none"/>
<text x="47.20" y="415.70" font-size="10" fill="#161616">2% NaCl</text>
<path d="M120.60 412.40L145.60 412.40" stroke="#595959" stroke-width="2"/>
<text x="148.00" y="415.70" font-size="10" fill="#161616">4% NaCl</text>
<path d="M223.90 412.40L249.30 412.40" stroke="#b4b4b4" stroke-width="2"/>
<text x="251.00" y="415.70" font-size="10" fill="#161616">6% NaCl</text>
<path d="M19.20 423.00L45.10 423.00" stroke="#8c8c8c" stroke-width="2"/>
<path d="M32.15 419.94L35.21 423.00L32.15 426.06L29.09 423.00Z" fill="#8c8c8c"/>
<text x="47.20" y="426.30" font-size="10" fill="#161616">8% NaCl</text>
<rect x="354.5" y="378" width="321.0" height="178.29999999999995" fill="#fff" stroke="#d7d7d7" stroke-width="1"/>
<path d="M399.90 434.00L399.90 524.20M432.60 434.00L432.60 524.20M465.30 434.00L465.30 524.20M498.00 434.00L498.00 524.20M530.70 434.00L530.70 524.20M563.40 434.00L563.40 524.20M596.10 434.00L596.10 524.20M628.80 434.00L628.80 524.20M661.50 434.00L661.50 524.20M399.90 524.20L661.50 524.20" stroke="#dcdcdc" stroke-width="1" fill="none"/>
<text x="391.00" y="527.50" font-size="10" text-anchor="end" fill="#161616">1.00</text>
<text x="391.00" y="497.43" font-size="10" text-anchor="end" fill="#161616">1.30</text>
<text x="391.00" y="467.37" font-size="10" text-anchor="end" fill="#161616">1.60</text>
<text x="391.00" y="437.30" font-size="10" text-anchor="end" fill="#161616">1.90</text>
<text transform="translate(367.30 478.90) rotate(-90)" font-size="10" text-anchor="middle" fill="#161616">OD600</text>
<text x="415.35" y="540.10" font-size="10" text-anchor="middle" fill="#161616">0</text>
<text x="448.05" y="540.10" font-size="10" text-anchor="middle" fill="#161616">2</text>
<text x="480.75" y="540.10" font-size="10" text-anchor="middle" fill="#161616">4</text>
<text x="513.45" y="540.10" font-size="10" text-anchor="middle" fill="#161616">8</text>
<text x="547.35" y="540.10" font-size="10" text-anchor="middle" fill="#161616" letter-spacing="1.6">12</text>
<text x="580.05" y="540.10" font-size="10" text-anchor="middle" fill="#161616" letter-spacing="1.6">16</text>
<text x="612.75" y="540.10" font-size="10" text-anchor="middle" fill="#161616" letter-spacing="1.6">20</text>
<text x="645.45" y="540.10" font-size="10" text-anchor="middle" fill="#161616" letter-spacing="1.6">24</text>
<text x="530.70" y="553.90" font-size="10" text-anchor="middle" fill="#161616">HOURS</text>
<text transform="translate(379.4 552) scale(0.7 1)" class="pl" font-size="13.7" fill="#111">F</text>
<path d="M416.25 524.20L448.95 485.51L481.65 487.02L514.35 492.13L547.05 494.13L579.75 492.63L612.45 490.02L645.15 488.02" stroke="#595959" stroke-width="2.3" fill="none" stroke-linejoin="round" stroke-linecap="round"/>
<path d="M416.25 519.70L420.75 524.20L416.25 528.70L411.75 524.20Z" fill="#595959"/>
<path d="M448.95 481.01L453.45 485.51L448.95 490.01L444.45 485.51Z" fill="#595959"/>
<path d="M481.65 482.52L486.15 487.02L481.65 491.52L477.15 487.02Z" fill="#595959"/>
<path d="M514.35 487.63L518.85 492.13L514.35 496.63L509.85 492.13Z" fill="#595959"/>
<path d="M547.05 489.63L551.55 494.13L547.05 498.63L542.55 494.13Z" fill="#595959"/>
<path d="M579.75 488.13L584.25 492.63L579.75 497.13L575.25 492.63Z" fill="#595959"/>
<path d="M612.45 485.52L616.95 490.02L612.45 494.52L607.95 490.02Z" fill="#595959"/>
<path d="M645.15 483.52L649.65 488.02L645.15 492.52L640.65 488.02Z" fill="#595959"/>
<path d="M416.25 524.20L448.95 524.20L481.65 524.20L514.35 524.20L547.05 524.20L579.75 524.20L612.45 524.20L645.15 524.20" stroke="#b1b1b1" stroke-width="2.3" fill="none" stroke-linejoin="round" stroke-linecap="round"/>
<rect x="412.15" y="520.10" width="8.20" height="8.20" fill="#b1b1b1"/>
<rect x="444.85" y="520.10" width="8.20" height="8.20" fill="#b1b1b1"/>
<rect x="477.55" y="520.10" width="8.20" height="8.20" fill="#b1b1b1"/>
<rect x="510.25" y="520.10" width="8.20" height="8.20" fill="#b1b1b1"/>
<rect x="542.95" y="520.10" width="8.20" height="8.20" fill="#b1b1b1"/>
<rect x="575.65" y="520.10" width="8.20" height="8.20" fill="#b1b1b1"/>
<rect x="608.35" y="520.10" width="8.20" height="8.20" fill="#b1b1b1"/>
<rect x="641.05" y="520.10" width="8.20" height="8.20" fill="#b1b1b1"/>
<path d="M416.25 524.20L448.95 517.89L481.65 518.89L514.35 518.89L547.05 517.89L579.75 517.18L612.45 516.58L645.15 516.58" stroke="#848484" stroke-width="2.3" fill="none" stroke-linejoin="round" stroke-linecap="round"/>
<path d="M416.25 520.10L420.35 528.30L412.15 528.30Z" fill="#848484"/>
<path d="M448.95 513.79L453.05 521.99L444.85 521.99Z" fill="#848484"/>
<path d="M481.65 514.79L485.75 522.99L477.55 522.99Z" fill="#848484"/>
<path d="M514.35 514.79L518.45 522.99L510.25 522.99Z" fill="#848484"/>
<path d="M547.05 513.79L551.15 521.99L542.95 521.99Z" fill="#848484"/>
<path d="M579.75 513.08L583.85 521.28L575.65 521.28Z" fill="#848484"/>
<path d="M612.45 512.48L616.55 520.68L608.35 520.68Z" fill="#848484"/>
<path d="M645.15 512.48L649.25 520.68L641.05 520.68Z" fill="#848484"/>
<path d="M416.25 524.20L448.95 524.20L481.65 524.20L514.35 524.20L547.05 524.20L579.75 524.20L612.45 524.20L645.15 524.20" stroke="#111111" stroke-width="2.0" fill="none" stroke-linejoin="round" stroke-linecap="round"/>
<path d="M416.25 524.20L448.95 524.20L481.65 524.20L514.35 524.20L547.05 524.20L579.75 524.20L612.45 524.20L645.15 524.20" stroke="#dcdcdc" stroke-width="2.3" fill="none" stroke-linejoin="round" stroke-linecap="round"/>
<path d="M412.45 520.40L420.05 528.00M412.45 528.00L420.05 520.40M416.25 520.40L416.25 528.00" stroke="#dcdcdc" stroke-width="1.50" fill="none"/>
<path d="M445.15 520.40L452.75 528.00M445.15 528.00L452.75 520.40M448.95 520.40L448.95 528.00" stroke="#dcdcdc" stroke-width="1.50" fill="none"/>
<path d="M477.85 520.40L485.45 528.00M477.85 528.00L485.45 520.40M481.65 520.40L481.65 528.00" stroke="#dcdcdc" stroke-width="1.50" fill="none"/>
<path d="M510.55 520.40L518.15 528.00M510.55 528.00L518.15 520.40M514.35 520.40L514.35 528.00" stroke="#dcdcdc" stroke-width="1.50" fill="none"/>
<path d="M543.25 520.40L550.85 528.00M543.25 528.00L550.85 520.40M547.05 520.40L547.05 528.00" stroke="#dcdcdc" stroke-width="1.50" fill="none"/>
<path d="M575.95 520.40L583.55 528.00M575.95 528.00L583.55 520.40M579.75 520.40L579.75 528.00" stroke="#dcdcdc" stroke-width="1.50" fill="none"/>
<path d="M608.65 520.40L616.25 528.00M608.65 528.00L616.25 520.40M612.45 520.40L612.45 528.00" stroke="#dcdcdc" stroke-width="1.50" fill="none"/>
<path d="M641.35 520.40L648.95 528.00M641.35 528.00L648.95 520.40M645.15 520.40L645.15 528.00" stroke="#dcdcdc" stroke-width="1.50" fill="none"/>
<path d="M416.25 524.20L448.95 524.20L481.65 524.20L514.35 524.20L547.05 524.20L579.75 524.20L612.45 524.20L645.15 524.20" stroke="#a8a8a8" stroke-width="2.3" fill="none" stroke-linejoin="round" stroke-linecap="round"/>
<circle cx="416.25" cy="524.20" r="4.10" fill="#a8a8a8"/>
<circle cx="448.95" cy="524.20" r="4.10" fill="#a8a8a8"/>
<circle cx="481.65" cy="524.20" r="4.10" fill="#a8a8a8"/>
<circle cx="514.35" cy="524.20" r="4.10" fill="#a8a8a8"/>
<circle cx="547.05" cy="524.20" r="4.10" fill="#a8a8a8"/>
<circle cx="579.75" cy="524.20" r="4.10" fill="#a8a8a8"/>
<circle cx="612.45" cy="524.20" r="4.10" fill="#a8a8a8"/>
<circle cx="645.15" cy="524.20" r="4.10" fill="#a8a8a8"/>
<path d="M416.25 524.20L448.95 488.12L481.65 488.12L514.35 490.63L547.05 494.63L579.75 494.13L612.45 493.13L645.15 491.73" stroke="#808080" stroke-width="2.3" fill="none" stroke-linejoin="round" stroke-linecap="round"/>
<path d="M412.05 524.20L420.45 524.20M416.25 520.00L416.25 528.40" stroke="#808080" stroke-width="1.20" fill="none"/>
<path d="M444.75 488.12L453.15 488.12M448.95 483.92L448.95 492.32" stroke="#808080" stroke-width="1.20" fill="none"/>
<path d="M477.45 488.12L485.85 488.12M481.65 483.92L481.65 492.32" stroke="#808080" stroke-width="1.20" fill="none"/>
<path d="M510.15 490.63L518.55 490.63M514.35 486.43L514.35 494.83" stroke="#808080" stroke-width="1.20" fill="none"/>
<path d="M542.85 494.63L551.25 494.63M547.05 490.43L547.05 498.83" stroke="#808080" stroke-width="1.20" fill="none"/>
<path d="M575.55 494.13L583.95 494.13M579.75 489.93L579.75 498.33" stroke="#808080" stroke-width="1.20" fill="none"/>
<path d="M608.25 493.13L616.65 493.13M612.45 488.93L612.45 497.33" stroke="#808080" stroke-width="1.20" fill="none"/>
<path d="M640.95 491.73L649.35 491.73M645.15 487.53L645.15 495.93" stroke="#808080" stroke-width="1.20" fill="none"/>
<path d="M416.25 524.20L448.95 486.12L481.65 487.22L514.35 491.63L547.05 494.63L579.75 493.63L612.45 491.63L645.15 489.72" stroke="#595959" stroke-width="2.3" fill="none" stroke-linejoin="round" stroke-linecap="round"/>
<rect x="412.25" y="522.95" width="8.00" height="2.5" fill="#595959"/>
<rect x="444.95" y="484.87" width="8.00" height="2.5" fill="#595959"/>
<rect x="477.65" y="485.97" width="8.00" height="2.5" fill="#595959"/>
<rect x="510.35" y="490.38" width="8.00" height="2.5" fill="#595959"/>
<rect x="543.05" y="493.38" width="8.00" height="2.5" fill="#595959"/>
<rect x="575.75" y="492.38" width="8.00" height="2.5" fill="#595959"/>
<rect x="608.45" y="490.38" width="8.00" height="2.5" fill="#595959"/>
<rect x="641.15" y="488.47" width="8.00" height="2.5" fill="#595959"/>
<path d="M416.25 524.20L448.95 489.62L481.65 489.12L514.35 491.63L547.05 494.63L579.75 495.14L612.45 495.14L645.15 495.14" stroke="#b4b4b4" stroke-width="2.3" fill="none" stroke-linejoin="round" stroke-linecap="round"/>
<rect x="412.25" y="522.95" width="8.00" height="2.5" fill="#b4b4b4"/>
<rect x="444.95" y="488.37" width="8.00" height="2.5" fill="#b4b4b4"/>
<rect x="477.65" y="487.87" width="8.00" height="2.5" fill="#b4b4b4"/>
<rect x="510.35" y="490.38" width="8.00" height="2.5" fill="#b4b4b4"/>
<rect x="543.05" y="493.38" width="8.00" height="2.5" fill="#b4b4b4"/>
<rect x="575.75" y="493.89" width="8.00" height="2.5" fill="#b4b4b4"/>
<rect x="608.45" y="493.89" width="8.00" height="2.5" fill="#b4b4b4"/>
<rect x="641.15" y="493.89" width="8.00" height="2.5" fill="#b4b4b4"/>
<path d="M416.25 524.20L448.95 497.44L481.65 494.94L514.35 497.44L547.05 498.84L579.75 500.65L612.45 501.15L645.15 501.35" stroke="#8c8c8c" stroke-width="2.3" fill="none" stroke-linejoin="round" stroke-linecap="round"/>
<path d="M416.25 519.70L420.75 524.20L416.25 528.70L411.75 524.20Z" fill="#8c8c8c"/>
<path d="M448.95 492.94L453.45 497.44L448.95 501.94L444.45 497.44Z" fill="#8c8c8c"/>
<path d="M481.65 490.44L486.15 494.94L481.65 499.44L477.15 494.94Z" fill="#8c8c8c"/>
<path d="M514.35 492.94L518.85 497.44L514.35 501.94L509.85 497.44Z" fill="#8c8c8c"/>
<path d="M547.05 494.34L551.55 498.84L547.05 503.34L542.55 498.84Z" fill="#8c8c8c"/>
<path d="M579.75 496.15L584.25 500.65L579.75 505.15L575.25 500.65Z" fill="#8c8c8c"/>
<path d="M612.45 496.65L616.95 501.15L612.45 505.65L607.95 501.15Z" fill="#8c8c8c"/>
<path d="M645.15 496.85L649.65 501.35L645.15 505.85L640.65 501.35Z" fill="#8c8c8c"/>
<path d="M374.00 391.60L399.40 391.60" stroke="#595959" stroke-width="2"/>
<path d="M386.70 388.54L389.76 391.60L386.70 394.66L383.64 391.60Z" fill="#595959"/>
<text x="402.00" y="394.90" font-size="10" fill="#161616">Control</text>
<path d="M473.00 391.60L498.00 391.60" stroke="#b1b1b1" stroke-width="2"/>
<rect x="482.71" y="388.81" width="5.58" height="5.58" fill="#b1b1b1"/>
<text x="501.30" y="394.90" font-size="10" fill="#161616">pH 2</text>
<path d="M572.90 391.60L598.40 391.60" stroke="#848484" stroke-width="2"/>
<path d="M585.65 388.81L588.44 394.39L582.86 394.39Z" fill="#848484"/>
<text x="600.50" y="394.90" font-size="10" fill="#161616">pH 3</text>
<path d="M374.00 401.90L399.40 401.90" stroke="#111111" stroke-width="2"/>
<path d="M383.98 399.18L389.42 404.62M383.98 404.62L389.42 399.18" stroke="#111111" stroke-width="1.12" fill="none"/>
<text x="402.00" y="405.20" font-size="10" fill="#161616">1% bile salt</text>
<path d="M473.00 401.90L498.00 401.90" stroke="#dcdcdc" stroke-width="2"/>
<path d="M482.92 399.32L488.08 404.48M482.92 404.48L488.08 399.32M485.50 399.32L485.50 404.48" stroke="#dcdcdc" stroke-width="1.20" fill="none"/>
<text x="501.30" y="405.20" font-size="10" fill="#161616">0,5% bile salt</text>
<path d="M572.90 401.90L598.40 401.90" stroke="#a8a8a8" stroke-width="2"/>
<circle cx="585.65" cy="401.90" r="2.79" fill="#a8a8a8"/>
<text x="600.50" y="405.20" font-size="10" fill="#161616">0,25% bile salt</text>
<path d="M374.00 412.40L399.40 412.40" stroke="#808080" stroke-width="2"/>
<path d="M383.84 412.40L389.56 412.40M386.70 409.54L386.70 415.26" stroke="#808080" stroke-width="0.96" fill="none"/>
<text x="402.00" y="415.70" font-size="10" fill="#161616">2% NaCl</text>
<path d="M473.00 412.40L498.00 412.40" stroke="#595959" stroke-width="2"/>
<text x="501.30" y="415.70" font-size="10" fill="#161616">4% NaCl</text>
<path d="M572.90 412.40L598.40 412.40" stroke="#b4b4b4" stroke-width="2"/>
<text x="600.50" y="415.70" font-size="10" fill="#161616">6% NaCl</text>
<path d="M374.00 423.00L399.40 423.00" stroke="#8c8c8c" stroke-width="2"/>
<path d="M386.70 419.94L389.76 423.00L386.70 426.06L383.64 423.00Z" fill="#8c8c8c"/>
<text x="402.00" y="426.30" font-size="10" fill="#161616">8% NaCl</text>
<rect x="0.5" y="558.8" width="321.0" height="179.30000000000007" fill="#fff" stroke="#d7d7d7" stroke-width="1"/>
<path d="M49.90 608.20L49.90 702.90M81.97 608.20L81.97 702.90M114.05 608.20L114.05 702.90M146.12 608.20L146.12 702.90M178.20 608.20L178.20 702.90M210.28 608.20L210.28 702.90M242.35 608.20L242.35 702.90M274.43 608.20L274.43 702.90M306.50 608.20L306.50 702.90M49.90 702.90L306.50 702.90" stroke="#dcdcdc" stroke-width="1" fill="none"/>
<text x="41.50" y="706.20" font-size="10" text-anchor="end" fill="#161616">1.0</text>
<text x="41.50" y="674.63" font-size="10" text-anchor="end" fill="#161616">1.3</text>
<text x="41.50" y="643.07" font-size="10" text-anchor="end" fill="#161616">1.6</text>
<text x="41.50" y="611.50" font-size="10" text-anchor="end" fill="#161616">1.9</text>
<text transform="translate(23.50 655.35) rotate(-90)" font-size="10" text-anchor="middle" fill="#161616">OD600</text>
<text x="65.04" y="718.10" font-size="10" text-anchor="middle" fill="#161616">0</text>
<text x="97.11" y="718.10" font-size="10" text-anchor="middle" fill="#161616">2</text>
<text x="129.19" y="718.10" font-size="10" text-anchor="middle" fill="#161616">4</text>
<text x="161.26" y="718.10" font-size="10" text-anchor="middle" fill="#161616">8</text>
<text x="194.54" y="718.10" font-size="10" text-anchor="middle" fill="#161616" letter-spacing="1.6">12</text>
<text x="226.61" y="718.10" font-size="10" text-anchor="middle" fill="#161616" letter-spacing="1.6">16</text>
<text x="258.69" y="718.10" font-size="10" text-anchor="middle" fill="#161616" letter-spacing="1.6">20</text>
<text x="290.76" y="718.10" font-size="10" text-anchor="middle" fill="#161616" letter-spacing="1.6">24</text>
<text x="178.20" y="733.70" font-size="10" text-anchor="middle" fill="#161616">HOURS</text>
<text transform="translate(19.5 733.3) scale(0.88 1)" class="pl" font-size="13.7" fill="#111">G</text>
<path d="M65.94 702.90L98.01 631.03L130.09 620.62L162.16 616.51L194.24 616.83L226.31 621.88L258.39 623.56L290.46 624.40" stroke="#595959" stroke-width="2.3" fill="none" stroke-linejoin="round" stroke-linecap="round"/>
<path d="M65.94 698.40L70.44 702.90L65.94 707.40L61.44 702.90Z" fill="#595959"/>
<path d="M98.01 626.53L102.51 631.03L98.01 635.53L93.51 631.03Z" fill="#595959"/>
<path d="M130.09 616.12L134.59 620.62L130.09 625.12L125.59 620.62Z" fill="#595959"/>
<path d="M162.16 612.01L166.66 616.51L162.16 621.01L157.66 616.51Z" fill="#595959"/>
<path d="M194.24 612.33L198.74 616.83L194.24 621.33L189.74 616.83Z" fill="#595959"/>
<path d="M226.31 617.38L230.81 621.88L226.31 626.38L221.81 621.88Z" fill="#595959"/>
<path d="M258.39 619.06L262.89 623.56L258.39 628.06L253.89 623.56Z" fill="#595959"/>
<path d="M290.46 619.90L294.96 624.40L290.46 628.90L285.96 624.40Z" fill="#595959"/>
<path d="M65.94 702.90L98.01 654.29L130.09 644.61L162.16 639.35L194.24 639.56L226.31 642.08L258.39 643.34L290.46 643.77" stroke="#b1b1b1" stroke-width="2.3" fill="none" stroke-linejoin="round" stroke-linecap="round"/>
<rect x="61.84" y="698.80" width="8.20" height="8.20" fill="#b1b1b1"/>
<rect x="93.91" y="650.19" width="8.20" height="8.20" fill="#b1b1b1"/>
<rect x="125.99" y="640.51" width="8.20" height="8.20" fill="#b1b1b1"/>
<rect x="158.06" y="635.25" width="8.20" height="8.20" fill="#b1b1b1"/>
<rect x="190.14" y="635.46" width="8.20" height="8.20" fill="#b1b1b1"/>
<rect x="222.21" y="637.98" width="8.20" height="8.20" fill="#b1b1b1"/>
<rect x="254.29" y="639.24" width="8.20" height="8.20" fill="#b1b1b1"/>
<rect x="286.36" y="639.67" width="8.20" height="8.20" fill="#b1b1b1"/>
<path d="M65.94 702.90L98.01 685.12L130.09 666.39L162.16 653.87L194.24 648.39L226.31 645.87L258.39 643.34L290.46 643.77" stroke="#848484" stroke-width="2.3" fill="none" stroke-linejoin="round" stroke-linecap="round"/>
<path d="M65.94 698.80L70.04 707.00L61.84 707.00Z" fill="#848484"/>
<path d="M98.01 681.02L102.11 689.22L93.91 689.22Z" fill="#848484"/>
<path d="M130.09 662.29L134.19 670.49L125.99 670.49Z" fill="#848484"/>
<path d="M162.16 649.77L166.26 657.97L158.06 657.97Z" fill="#848484"/>
<path d="M194.24 644.29L198.34 652.49L190.14 652.49Z" fill="#848484"/>
<path d="M226.31 641.77L230.41 649.97L222.21 649.97Z" fill="#848484"/>
<path d="M258.39 639.24L262.49 647.44L254.29 647.44Z" fill="#848484"/>
<path d="M290.46 639.67L294.56 647.87L286.36 647.87Z" fill="#848484"/>
<path d="M65.94 702.90L98.01 703.43L130.09 700.69L162.16 690.90L194.24 685.43L226.31 682.91L258.39 680.49L290.46 678.49" stroke="#111111" stroke-width="2.0" fill="none" stroke-linejoin="round" stroke-linecap="round"/>
<path d="M94.01 699.43L102.01 707.43M94.01 707.43L102.01 699.43" stroke="#111111" stroke-width="1.40" fill="none"/>
<path d="M126.09 696.69L134.09 704.69M126.09 704.69L134.09 696.69" stroke="#111111" stroke-width="1.40" fill="none"/>
<path d="M158.16 686.90L166.16 694.90M158.16 694.90L166.16 686.90" stroke="#111111" stroke-width="1.40" fill="none"/>
<path d="M190.24 681.43L198.24 689.43M190.24 689.43L198.24 681.43" stroke="#111111" stroke-width="1.40" fill="none"/>
<path d="M222.31 678.91L230.31 686.91M222.31 686.91L230.31 678.91" stroke="#111111" stroke-width="1.40" fill="none"/>
<path d="M254.39 676.49L262.39 684.49M254.39 684.49L262.39 676.49" stroke="#111111" stroke-width="1.40" fill="none"/>
<path d="M286.46 674.49L294.46 682.49M286.46 682.49L294.46 674.49" stroke="#111111" stroke-width="1.40" fill="none"/>
<path d="M65.94 702.90L98.01 697.64L130.09 690.27L162.16 684.70L194.24 679.96L226.31 678.49L258.39 677.23L290.46 676.59" stroke="#dcdcdc" stroke-width="2.3" fill="none" stroke-linejoin="round" stroke-linecap="round"/>
<path d="M62.14 699.10L69.74 706.70M62.14 706.70L69.74 699.10M65.94 699.10L65.94 706.70" stroke="#dcdcdc" stroke-width="1.50" fill="none"/>
<path d="M94.21 693.84L101.81 701.44M94.21 701.44L101.81 693.84M98.01 693.84L98.01 701.44" stroke="#dcdcdc" stroke-width="1.50" fill="none"/>
<path d="M126.29 686.47L133.89 694.07M126.29 694.07L133.89 686.47M130.09 686.47L130.09 694.07" stroke="#dcdcdc" stroke-width="1.50" fill="none"/>
<path d="M158.36 680.90L165.96 688.50M158.36 688.50L165.96 680.90M162.16 680.90L162.16 688.50" stroke="#dcdcdc" stroke-width="1.50" fill="none"/>
<path d="M190.44 676.16L198.04 683.76M190.44 683.76L198.04 676.16M194.24 676.16L194.24 683.76" stroke="#dcdcdc" stroke-width="1.50" fill="none"/>
<path d="M222.51 674.69L230.11 682.29M222.51 682.29L230.11 674.69M226.31 674.69L226.31 682.29" stroke="#dcdcdc" stroke-width="1.50" fill="none"/>
<path d="M254.59 673.43L262.19 681.03M254.59 681.03L262.19 673.43M258.39 673.43L258.39 681.03" stroke="#dcdcdc" stroke-width="1.50" fill="none"/>
<path d="M286.66 672.79L294.26 680.39M286.66 680.39L294.26 672.79M290.46 672.79L290.46 680.39" stroke="#dcdcdc" stroke-width="1.50" fill="none"/>
<path d="M65.94 702.90L98.01 673.02L130.09 675.12L162.16 676.80L194.24 674.38L226.31 669.86L258.39 666.07L290.46 666.81" stroke="#a8a8a8" stroke-width="2.3" fill="none" stroke-linejoin="round" stroke-linecap="round"/>
<circle cx="65.94" cy="702.90" r="4.10" fill="#a8a8a8"/>
<circle cx="98.01" cy="673.02" r="4.10" fill="#a8a8a8"/>
<circle cx="130.09" cy="675.12" r="4.10" fill="#a8a8a8"/>
<circle cx="162.16" cy="676.80" r="4.10" fill="#a8a8a8"/>
<circle cx="194.24" cy="674.38" r="4.10" fill="#a8a8a8"/>
<circle cx="226.31" cy="669.86" r="4.10" fill="#a8a8a8"/>
<circle cx="258.39" cy="666.07" r="4.10" fill="#a8a8a8"/>
<circle cx="290.46" cy="666.81" r="4.10" fill="#a8a8a8"/>
<path d="M65.94 702.90L98.01 635.24L130.09 622.72L162.16 616.51L194.24 615.57L226.31 615.57L258.39 615.99L290.46 615.57" stroke="#808080" stroke-width="2.3" fill="none" stroke-linejoin="round" stroke-linecap="round"/>
<path d="M61.74 702.90L70.14 702.90M65.94 698.70L65.94 707.10" stroke="#808080" stroke-width="1.20" fill="none"/>
<path d="M93.81 635.24L102.21 635.24M98.01 631.04L98.01 639.44" stroke="#808080" stroke-width="1.20" fill="none"/>
<path d="M125.89 622.72L134.29 622.72M130.09 618.52L130.09 626.92" stroke="#808080" stroke-width="1.20" fill="none"/>
<path d="M157.96 616.51L166.36 616.51M162.16 612.31L162.16 620.71" stroke="#808080" stroke-width="1.20" fill="none"/>
<path d="M190.04 615.57L198.44 615.57M194.24 611.37L194.24 619.77" stroke="#808080" stroke-width="1.20" fill="none"/>
<path d="M222.11 615.57L230.51 615.57M226.31 611.37L226.31 619.77" stroke="#808080" stroke-width="1.20" fill="none"/>
<path d="M254.19 615.99L262.59 615.99M258.39 611.79L258.39 620.19" stroke="#808080" stroke-width="1.20" fill="none"/>
<path d="M286.26 615.57L294.66 615.57M290.46 611.37L290.46 619.77" stroke="#808080" stroke-width="1.20" fill="none"/>
<path d="M65.94 702.90L98.01 644.61L130.09 631.03L162.16 623.77L194.24 620.62L226.31 622.41L258.39 623.56L290.46 623.98" stroke="#595959" stroke-width="2.3" fill="none" stroke-linejoin="round" stroke-linecap="round"/>
<rect x="61.94" y="701.65" width="8.00" height="2.5" fill="#595959"/>
<rect x="94.01" y="643.36" width="8.00" height="2.5" fill="#595959"/>
<rect x="126.09" y="629.78" width="8.00" height="2.5" fill="#595959"/>
<rect x="158.16" y="622.52" width="8.00" height="2.5" fill="#595959"/>
<rect x="190.24" y="619.37" width="8.00" height="2.5" fill="#595959"/>
<rect x="222.31" y="621.16" width="8.00" height="2.5" fill="#595959"/>
<rect x="254.39" y="622.31" width="8.00" height="2.5" fill="#595959"/>
<rect x="286.46" y="622.73" width="8.00" height="2.5" fill="#595959"/>
<path d="M65.94 702.90L98.01 646.08L130.09 635.24L162.16 626.30L194.24 625.67L226.31 625.67L258.39 626.40L290.46 626.93" stroke="#b4b4b4" stroke-width="2.3" fill="none" stroke-linejoin="round" stroke-linecap="round"/>
<rect x="61.94" y="701.65" width="8.00" height="2.5" fill="#b4b4b4"/>
<rect x="94.01" y="644.83" width="8.00" height="2.5" fill="#b4b4b4"/>
<rect x="126.09" y="633.99" width="8.00" height="2.5" fill="#b4b4b4"/>
<rect x="158.16" y="625.05" width="8.00" height="2.5" fill="#b4b4b4"/>
<rect x="190.24" y="624.42" width="8.00" height="2.5" fill="#b4b4b4"/>
<rect x="222.31" y="624.42" width="8.00" height="2.5" fill="#b4b4b4"/>
<rect x="254.39" y="625.15" width="8.00" height="2.5" fill="#b4b4b4"/>
<rect x="286.46" y="625.68" width="8.00" height="2.5" fill="#b4b4b4"/>
<path d="M65.94 702.90L98.01 647.24L130.09 642.50L162.16 639.35L194.24 635.77L226.31 635.77L258.39 635.77L290.46 635.24" stroke="#8c8c8c" stroke-width="2.3" fill="none" stroke-linejoin="round" stroke-linecap="round"/>
<path d="M65.94 698.40L70.44 702.90L65.94 707.40L61.44 702.90Z" fill="#8c8c8c"/>
<path d="M98.01 642.74L102.51 647.24L98.01 651.74L93.51 647.24Z" fill="#8c8c8c"/>
<path d="M130.09 638.00L134.59 642.50L130.09 647.00L125.59 642.50Z" fill="#8c8c8c"/>
<path d="M162.16 634.85L166.66 639.35L162.16 643.85L157.66 639.35Z" fill="#8c8c8c"/>
<path d="M194.24 631.27L198.74 635.77L194.24 640.27L189.74 635.77Z" fill="#8c8c8c"/>
<path d="M226.31 631.27L230.81 635.77L226.31 640.27L221.81 635.77Z" fill="#8c8c8c"/>
<path d="M258.39 631.27L262.89 635.77L258.39 640.27L253.89 635.77Z" fill="#8c8c8c"/>
<path d="M290.46 630.74L294.96 635.24L290.46 639.74L285.96 635.24Z" fill="#8c8c8c"/>
<path d="M16.70 566.30L42.40 566.30" stroke="#595959" stroke-width="2"/>
<path d="M29.55 563.24L32.61 566.30L29.55 569.36L26.49 566.30Z" fill="#595959"/>
<text x="44.70" y="569.60" font-size="10" fill="#161616">Control</text>
<path d="M120.60 566.30L145.40 566.30" stroke="#b1b1b1" stroke-width="2"/>
<rect x="130.21" y="563.51" width="5.58" height="5.58" fill="#b1b1b1"/>
<text x="147.60" y="569.60" font-size="10" fill="#161616">pH2</text>
<path d="M223.80 566.30L249.20 566.30" stroke="#848484" stroke-width="2"/>
<path d="M236.50 563.51L239.29 569.09L233.71 569.09Z" fill="#848484"/>
<text x="251.50" y="569.60" font-size="10" fill="#161616">pH3</text>
<path d="M16.70 577.10L42.40 577.10" stroke="#111111" stroke-width="2"/>
<path d="M26.83 574.38L32.27 579.82M26.83 579.82L32.27 574.38" stroke="#111111" stroke-width="1.12" fill="none"/>
<text x="44.70" y="580.40" font-size="10" fill="#161616">1% bile salt</text>
<path d="M120.60 577.10L145.40 577.10" stroke="#dcdcdc" stroke-width="2"/>
<path d="M130.42 574.52L135.58 579.68M130.42 579.68L135.58 574.52M133.00 574.52L133.00 579.68" stroke="#dcdcdc" stroke-width="1.20" fill="none"/>
<text x="147.60" y="580.40" font-size="10" fill="#161616">0,5% bile salt</text>
<path d="M223.80 577.10L249.20 577.10" stroke="#a8a8a8" stroke-width="2"/>
<circle cx="236.50" cy="577.10" r="2.79" fill="#a8a8a8"/>
<text x="251.50" y="580.40" font-size="10" fill="#161616">0,25% bile salt</text>
<path d="M16.70 588.40L42.40 588.40" stroke="#808080" stroke-width="2"/>
<path d="M26.69 588.40L32.41 588.40M29.55 585.54L29.55 591.26" stroke="#808080" stroke-width="0.96" fill="none"/>
<text x="44.70" y="591.70" font-size="10" fill="#161616">2% NaCl</text>
<path d="M120.60 588.40L145.40 588.40" stroke="#595959" stroke-width="2"/>
<text x="147.60" y="591.70" font-size="10" fill="#161616">4% NaCl</text>
<path d="M223.80 588.40L249.20 588.40" stroke="#b4b4b4" stroke-width="2"/>
<text x="251.50" y="591.70" font-size="10" fill="#161616">6% NaCl</text>
<path d="M16.70 599.70L42.40 599.70" stroke="#8c8c8c" stroke-width="2"/>
<path d="M29.55 596.64L32.61 599.70L29.55 602.76L26.49 599.70Z" fill="#8c8c8c"/>
<text x="44.70" y="603.00" font-size="10" fill="#161616">8% NaCl</text>
<rect x="354.5" y="558.8" width="321.0" height="179.30000000000007" fill="#fff" stroke="#d7d7d7" stroke-width="1"/>
<path d="M401.40 609.20L401.40 702.90M433.65 609.20L433.65 702.90M465.90 609.20L465.90 702.90M498.15 609.20L498.15 702.90M530.40 609.20L530.40 702.90M562.65 609.20L562.65 702.90M594.90 609.20L594.90 702.90M627.15 609.20L627.15 702.90M659.40 609.20L659.40 702.90M401.40 702.90L659.40 702.90" stroke="#dcdcdc" stroke-width="1" fill="none"/>
<text x="393.30" y="706.20" font-size="10" text-anchor="end" fill="#161616">1.0</text>
<text x="393.30" y="674.97" font-size="10" text-anchor="end" fill="#161616">1.3</text>
<text x="393.30" y="643.73" font-size="10" text-anchor="end" fill="#161616">1.6</text>
<text x="393.30" y="612.50" font-size="10" text-anchor="end" fill="#161616">1.9</text>
<text transform="translate(375.30 655.95) rotate(-90)" font-size="10" text-anchor="middle" fill="#161616">OD600</text>
<text x="416.62" y="718.40" font-size="10" text-anchor="middle" fill="#161616">0</text>
<text x="448.88" y="718.40" font-size="10" text-anchor="middle" fill="#161616">2</text>
<text x="481.12" y="718.40" font-size="10" text-anchor="middle" fill="#161616">4</text>
<text x="513.38" y="718.40" font-size="10" text-anchor="middle" fill="#161616">8</text>
<text x="546.82" y="718.40" font-size="10" text-anchor="middle" fill="#161616" letter-spacing="1.6">12</text>
<text x="579.07" y="718.40" font-size="10" text-anchor="middle" fill="#161616" letter-spacing="1.6">16</text>
<text x="611.32" y="718.40" font-size="10" text-anchor="middle" fill="#161616" letter-spacing="1.6">20</text>
<text x="643.57" y="718.40" font-size="10" text-anchor="middle" fill="#161616" letter-spacing="1.6">24</text>
<text x="530.40" y="733.70" font-size="10" text-anchor="middle" fill="#161616">HOURS</text>
<text transform="translate(374.2 733.3) scale(0.9 1)" class="pl" font-size="13.7" fill="#111">H</text>
<path d="M417.52 702.90L449.77 647.72L482.02 633.98L514.27 624.82L546.52 621.38L578.77 620.24L611.02 619.82L643.27 619.82" stroke="#595959" stroke-width="2.3" fill="none" stroke-linejoin="round" stroke-linecap="round"/>
<rect x="413.42" y="698.80" width="8.20" height="8.20" fill="#595959"/>
<rect x="445.67" y="643.62" width="8.20" height="8.20" fill="#595959"/>
<rect x="477.92" y="629.88" width="8.20" height="8.20" fill="#595959"/>
<rect x="510.17" y="620.72" width="8.20" height="8.20" fill="#595959"/>
<rect x="542.42" y="617.28" width="8.20" height="8.20" fill="#595959"/>
<rect x="574.67" y="616.14" width="8.20" height="8.20" fill="#595959"/>
<rect x="606.92" y="615.72" width="8.20" height="8.20" fill="#595959"/>
<rect x="639.17" y="615.72" width="8.20" height="8.20" fill="#595959"/>
<path d="M417.52 702.90L449.77 672.29L482.02 666.04L514.27 659.17L546.52 657.61L578.77 656.88L611.02 656.88L643.27 656.36" stroke="#b1b1b1" stroke-width="2.3" fill="none" stroke-linejoin="round" stroke-linecap="round"/>
<path d="M417.52 698.80L421.62 707.00L413.42 707.00Z" fill="#b1b1b1"/>
<path d="M449.77 668.19L453.88 676.39L445.67 676.39Z" fill="#b1b1b1"/>
<path d="M482.02 661.94L486.12 670.14L477.92 670.14Z" fill="#b1b1b1"/>
<path d="M514.27 655.07L518.38 663.27L510.17 663.27Z" fill="#b1b1b1"/>
<path d="M546.52 653.51L550.62 661.71L542.42 661.71Z" fill="#b1b1b1"/>
<path d="M578.77 652.78L582.88 660.98L574.67 660.98Z" fill="#b1b1b1"/>
<path d="M611.02 652.78L615.12 660.98L606.92 660.98Z" fill="#b1b1b1"/>
<path d="M643.27 652.26L647.38 660.46L639.17 660.46Z" fill="#b1b1b1"/>
<path d="M417.52 702.90L449.77 663.96L482.02 659.17L514.27 650.84L546.52 647.72L578.77 645.64L611.02 644.60L643.27 644.08" stroke="#848484" stroke-width="2.3" fill="none" stroke-linejoin="round" stroke-linecap="round"/>
<path d="M413.52 698.90L421.52 706.90M413.52 706.90L421.52 698.90" stroke="#848484" stroke-width="1.40" fill="none"/>
<path d="M445.77 659.96L453.77 667.96M445.77 667.96L453.77 659.96" stroke="#848484" stroke-width="1.40" fill="none"/>
<path d="M478.02 655.17L486.02 663.17M478.02 663.17L486.02 655.17" stroke="#848484" stroke-width="1.40" fill="none"/>
<path d="M510.27 646.84L518.27 654.84M510.27 654.84L518.27 646.84" stroke="#848484" stroke-width="1.40" fill="none"/>
<path d="M542.52 643.72L550.52 651.72M542.52 651.72L550.52 643.72" stroke="#848484" stroke-width="1.40" fill="none"/>
<path d="M574.77 641.64L582.77 649.64M574.77 649.64L582.77 641.64" stroke="#848484" stroke-width="1.40" fill="none"/>
<path d="M607.02 640.60L615.02 648.60M607.02 648.60L615.02 640.60" stroke="#848484" stroke-width="1.40" fill="none"/>
<path d="M639.27 640.08L647.27 648.08M639.27 648.08L647.27 640.08" stroke="#848484" stroke-width="1.40" fill="none"/>
<path d="M417.52 702.90L449.77 696.76L482.02 673.33L514.27 661.46L546.52 654.38L578.77 649.28L611.02 646.06L643.27 644.29" stroke="#111111" stroke-width="2.0" fill="none" stroke-linejoin="round" stroke-linecap="round"/>
<path d="M413.72 699.10L421.32 706.70M413.72 706.70L421.32 699.10M417.52 699.10L417.52 706.70" stroke="#111111" stroke-width="1.50" fill="none"/>
<path d="M445.97 692.96L453.57 700.56M445.97 700.56L453.57 692.96M449.77 692.96L449.77 700.56" stroke="#111111" stroke-width="1.50" fill="none"/>
<path d="M478.22 669.53L485.82 677.13M478.22 677.13L485.82 669.53M482.02 669.53L482.02 677.13" stroke="#111111" stroke-width="1.50" fill="none"/>
<path d="M510.47 657.66L518.07 665.26M510.47 665.26L518.07 657.66M514.27 657.66L514.27 665.26" stroke="#111111" stroke-width="1.50" fill="none"/>
<path d="M542.73 650.58L550.32 658.18M542.73 658.18L550.32 650.58M546.52 650.58L546.52 658.18" stroke="#111111" stroke-width="1.50" fill="none"/>
<path d="M574.98 645.48L582.57 653.08M574.98 653.08L582.57 645.48M578.77 645.48L578.77 653.08" stroke="#111111" stroke-width="1.50" fill="none"/>
<path d="M607.23 642.26L614.82 649.86M607.23 649.86L614.82 642.26M611.02 642.26L611.02 649.86" stroke="#111111" stroke-width="1.50" fill="none"/>
<path d="M639.48 640.49L647.07 648.09M639.48 648.09L647.07 640.49M643.27 640.49L643.27 648.09" stroke="#111111" stroke-width="1.50" fill="none"/>
<path d="M417.52 702.90L449.77 682.70L482.02 667.09L514.27 652.61L546.52 644.60L578.77 640.43L611.02 638.35L643.27 636.79" stroke="#dcdcdc" stroke-width="2.3" fill="none" stroke-linejoin="round" stroke-linecap="round"/>
<circle cx="417.52" cy="702.90" r="3.60" fill="#f4f4f4" stroke="#dcdcdc" stroke-width="1.30"/>
<circle cx="449.77" cy="682.70" r="3.60" fill="#f4f4f4" stroke="#dcdcdc" stroke-width="1.30"/>
<circle cx="482.02" cy="667.09" r="3.60" fill="#f4f4f4" stroke="#dcdcdc" stroke-width="1.30"/>
<circle cx="514.27" cy="652.61" r="3.60" fill="#f4f4f4" stroke="#dcdcdc" stroke-width="1.30"/>
<circle cx="546.52" cy="644.60" r="3.60" fill="#f4f4f4" stroke="#dcdcdc" stroke-width="1.30"/>
<circle cx="578.77" cy="640.43" r="3.60" fill="#f4f4f4" stroke="#dcdcdc" stroke-width="1.30"/>
<circle cx="611.02" cy="638.35" r="3.60" fill="#f4f4f4" stroke="#dcdcdc" stroke-width="1.30"/>
<circle cx="643.27" cy="636.79" r="3.60" fill="#f4f4f4" stroke="#dcdcdc" stroke-width="1.30"/>
<path d="M417.52 702.90L449.77 665.42L482.02 656.05L514.27 647.72L546.52 641.47L578.77 638.35L611.02 636.27L643.27 634.71" stroke="#a8a8a8" stroke-width="2.3" fill="none" stroke-linejoin="round" stroke-linecap="round"/>
<path d="M413.32 702.90L421.72 702.90M417.52 698.70L417.52 707.10" stroke="#a8a8a8" stroke-width="1.20" fill="none"/>
<path d="M445.57 665.42L453.97 665.42M449.77 661.22L449.77 669.62" stroke="#a8a8a8" stroke-width="1.20" fill="none"/>
<path d="M477.82 656.05L486.22 656.05M482.02 651.85L482.02 660.25" stroke="#a8a8a8" stroke-width="1.20" fill="none"/>
<path d="M510.07 647.72L518.48 647.72M514.27 643.52L514.27 651.92" stroke="#a8a8a8" stroke-width="1.20" fill="none"/>
<path d="M542.32 641.47L550.73 641.47M546.52 637.27L546.52 645.67" stroke="#a8a8a8" stroke-width="1.20" fill="none"/>
<path d="M574.57 638.35L582.98 638.35M578.77 634.15L578.77 642.55" stroke="#a8a8a8" stroke-width="1.20" fill="none"/>
<path d="M606.82 636.27L615.23 636.27M611.02 632.07L611.02 640.47" stroke="#a8a8a8" stroke-width="1.20" fill="none"/>
<path d="M639.07 634.71L647.48 634.71M643.27 630.51L643.27 638.91" stroke="#a8a8a8" stroke-width="1.20" fill="none"/>
<path d="M417.52 702.90L449.77 650.64L482.02 636.48L514.27 627.21L546.52 623.78L578.77 622.53L611.02 622.01L643.27 621.90" stroke="#808080" stroke-width="2.3" fill="none" stroke-linejoin="round" stroke-linecap="round"/>
<path d="M417.52 702.90L449.77 656.36L482.02 642.62L514.27 633.77L546.52 630.02L578.77 627.94L611.02 627.11L643.27 626.59" stroke="#595959" stroke-width="2.3" fill="none" stroke-linejoin="round" stroke-linecap="round"/>
<path d="M417.52 702.90L449.77 662.30L482.02 653.24L514.27 642.00L546.52 636.69L578.77 634.19L611.02 632.62L643.27 631.69" stroke="#b4b4b4" stroke-width="2.3" fill="none" stroke-linejoin="round" stroke-linecap="round"/>
<path d="M417.52 702.90L449.77 659.90L482.02 650.53L514.27 643.66L546.52 641.79L578.77 639.18L611.02 637.41L643.27 636.69" stroke="#8c8c8c" stroke-width="2.3" fill="none" stroke-linejoin="round" stroke-linecap="round"/>
<path d="M417.52 698.40L422.02 702.90L417.52 707.40L413.02 702.90Z" fill="#8c8c8c"/>
<path d="M449.77 655.40L454.27 659.90L449.77 664.40L445.27 659.90Z" fill="#8c8c8c"/>
<path d="M482.02 646.03L486.52 650.53L482.02 655.03L477.52 650.53Z" fill="#8c8c8c"/>
<path d="M514.27 639.16L518.77 643.66L514.27 648.16L509.77 643.66Z" fill="#8c8c8c"/>
<path d="M546.52 637.29L551.02 641.79L546.52 646.29L542.02 641.79Z" fill="#8c8c8c"/>
<path d="M578.77 634.68L583.27 639.18L578.77 643.68L574.27 639.18Z" fill="#8c8c8c"/>
<path d="M611.02 632.91L615.52 637.41L611.02 641.91L606.52 637.41Z" fill="#8c8c8c"/>
<path d="M643.27 632.19L647.77 636.69L643.27 641.19L638.77 636.69Z" fill="#8c8c8c"/>
<path d="M372.40 566.30L397.40 566.30" stroke="#595959" stroke-width="2"/>
<rect x="382.11" y="563.51" width="5.58" height="5.58" fill="#595959"/>
<text x="399.60" y="569.60" font-size="10" fill="#161616">Control</text>
<path d="M472.60 566.30L497.10 566.30" stroke="#b1b1b1" stroke-width="2"/>
<path d="M484.85 563.51L487.64 569.09L482.06 569.09Z" fill="#b1b1b1"/>
<text x="499.80" y="569.60" font-size="10" fill="#161616">pH2</text>
<path d="M572.90 566.30L598.40 566.30" stroke="#848484" stroke-width="2"/>
<path d="M582.93 563.58L588.37 569.02M582.93 569.02L588.37 563.58" stroke="#848484" stroke-width="1.12" fill="none"/>
<text x="600.40" y="569.60" font-size="10" fill="#161616">pH3</text>
<path d="M372.40 577.10L397.40 577.10" stroke="#111111" stroke-width="2"/>
<path d="M382.32 574.52L387.48 579.68M382.32 579.68L387.48 574.52M384.90 574.52L384.90 579.68" stroke="#111111" stroke-width="1.20" fill="none"/>
<text x="399.60" y="580.40" font-size="10" fill="#161616">1% bile salt</text>
<path d="M472.60 577.10L497.10 577.10" stroke="#dcdcdc" stroke-width="2"/>
<circle cx="484.85" cy="577.10" r="2.45" fill="#f4f4f4" stroke="#dcdcdc" stroke-width="1.04"/>
<text x="499.80" y="580.40" font-size="10" fill="#161616">0,5% bile salt</text>
<path d="M572.90 577.10L598.40 577.10" stroke="#a8a8a8" stroke-width="2"/>
<path d="M582.79 577.10L588.51 577.10M585.65 574.24L585.65 579.96" stroke="#a8a8a8" stroke-width="0.96" fill="none"/>
<text x="600.40" y="580.40" font-size="10" fill="#161616">0,25% bile salt</text>
<path d="M372.40 588.90L397.40 588.90" stroke="#808080" stroke-width="2"/>
<text x="399.60" y="592.20" font-size="10" fill="#161616">2% NaCl</text>
<path d="M472.60 588.90L497.10 588.90" stroke="#595959" stroke-width="2"/>
<text x="499.80" y="592.20" font-size="10" fill="#161616">4% NaCl</text>
<path d="M572.90 588.90L598.40 588.90" stroke="#b4b4b4" stroke-width="2"/>
<text x="600.40" y="592.20" font-size="10" fill="#161616">6% NaCl</text>
<path d="M372.40 599.70L397.40 599.70" stroke="#8c8c8c" stroke-width="2"/>
<path d="M384.90 596.64L387.96 599.70L384.90 602.76L381.84 599.70Z" fill="#8c8c8c"/>
<text x="399.60" y="603.00" font-size="10" fill="#161616">8% NaCl</text>
</svg>
</body></html>
